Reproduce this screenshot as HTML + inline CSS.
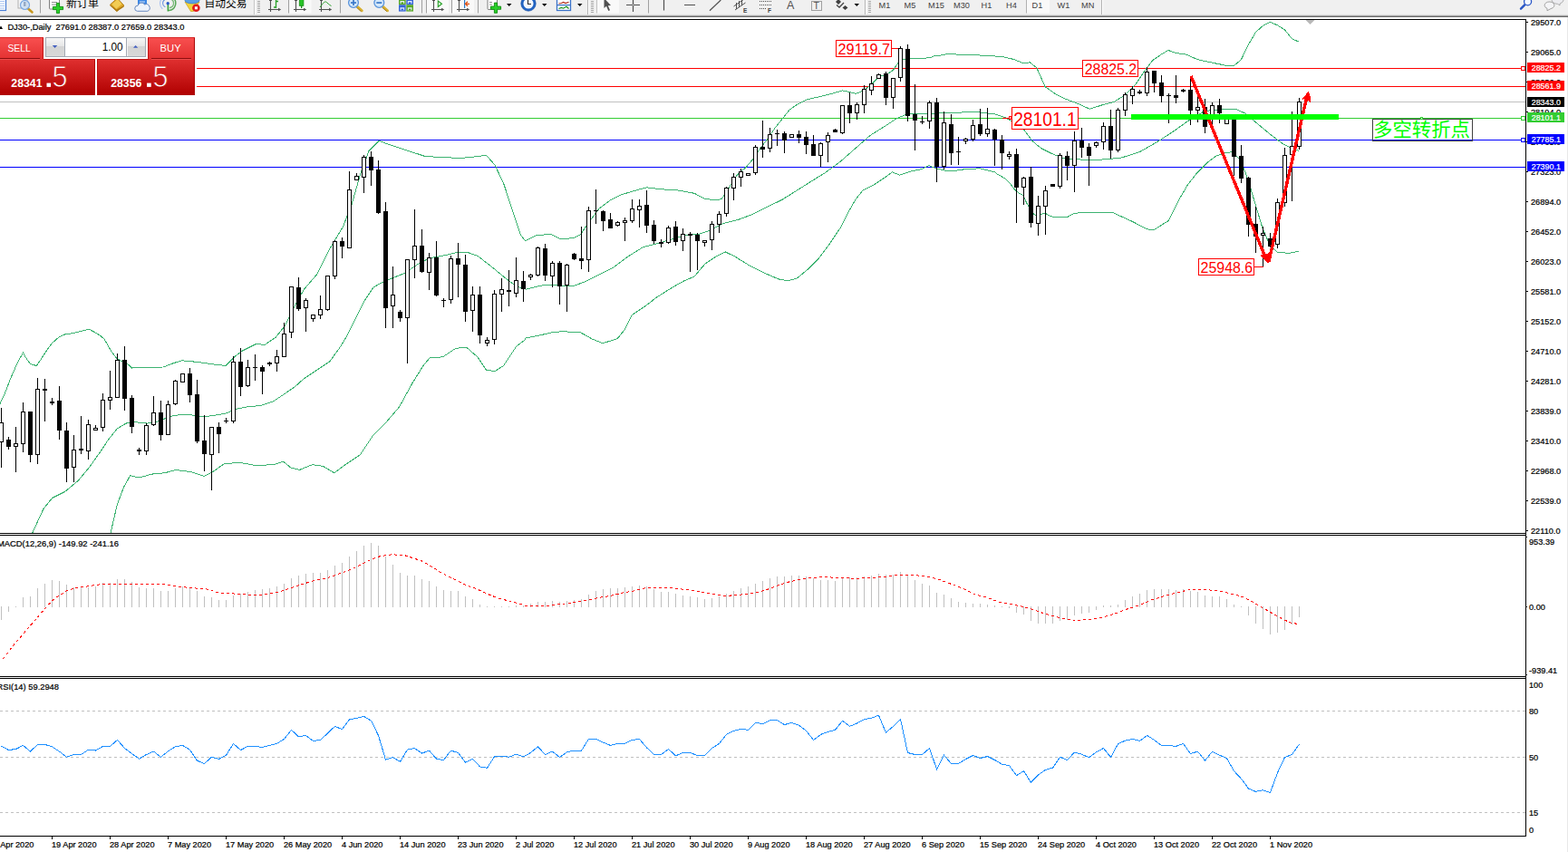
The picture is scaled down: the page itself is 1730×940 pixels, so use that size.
<!DOCTYPE html>
<html><head><meta charset="utf-8"><title>DJ30 Daily</title>
<style>
html,body{margin:0;padding:0;background:#fff;}
body{width:1730px;height:940px;overflow:hidden;position:relative;font-family:"Liberation Sans",sans-serif;}
svg text{font-family:"Liberation Sans",sans-serif;}
svg text.cjk{font-family:"Liberation Sans","Noto Sans CJK SC",sans-serif;}
#tb{position:absolute;left:0;top:0;width:1730px;height:19px;background:linear-gradient(#f0f0f0 0,#f0f0f0 16px,#dcdcdc 16px,#dcdcdc 17px,#a0a0a0 17px,#a0a0a0 18px,#696969 18px,#696969 19px);}
#chart{position:absolute;left:0;top:0;}
#tbi{position:absolute;left:0;top:0;}
#tp{position:absolute;left:0;top:41px;width:215px;height:64px;background:#fff;}
#tp .sellt,#tp .buyt{position:absolute;top:0;height:24px;color:#fff;font-size:12px;line-height:23px;background:linear-gradient(#f84848,#e02a2a);}
#tp .sellt{left:0;width:47px;text-indent:8px;}
#tp .buyt{left:164px;width:51px;text-indent:12px;}
#tp .sellt:after,#tp .buyt:after{content:"";position:absolute;left:0;right:4px;bottom:0;height:1px;background:#b81818;}
#tp .buyt:after{left:4px;right:4px;}
#tp .vol{position:absolute;left:50px;top:0;width:110px;height:21px;border:1px solid #a8a8a8;border-radius:2px;background:#fff;box-sizing:border-box;}
#tp .vb{position:absolute;top:1px;width:18px;height:17px;background:linear-gradient(#e8e8e8,#c8c8c8);border:1px solid #b0b0b0;box-sizing:border-box;}
#tp .vb.l{left:1px;} #tp .vb.r{right:1px;}
#tp .vv{position:absolute;right:25px;top:0;font-size:12px;line-height:19px;color:#000;}
#tp i{position:absolute;left:5px;width:0;height:0;border-left:3px solid transparent;border-right:3px solid transparent;}
#tp i.dn{top:7px;border-top:3px solid #4858b8;}
#tp i.up{top:6px;border-bottom:3px solid #4858b8;}
#tp .big{position:absolute;top:24px;height:40px;color:#fff;background:linear-gradient(#d83030,#b00000);}
#tp .big.s{left:0;width:105px;} #tp .big.b{left:107px;width:108px;}
#tp .sm{position:absolute;left:12px;top:20px;font-size:11px;font-weight:bold;line-height:12px;letter-spacing:.3px;}
#tp .big.b .sm{left:15px;}
#tp .dot{position:absolute;left:50px;top:0;font-size:32px;line-height:36px;}
#tp .big.b .dot{left:54px;}
#tp .lg{position:absolute;left:59px;top:0;font-size:32px;line-height:36px;}
#tp .big.b .lg{left:63px;}
</style></head><body>
<svg id="chart" width="1730" height="940" viewBox="0 0 1730 940">
<rect x="0" y="75" width="1683" height="1" fill="#ff0000" />
<rect x="0" y="95" width="1683" height="1" fill="#ff0000" />
<rect x="0" y="112" width="1683" height="1" fill="#c0c0c0" />
<rect x="0" y="130" width="1683" height="1" fill="#32cd32" />
<rect x="0" y="154" width="1683" height="1" fill="#0000ff" />
<rect x="0" y="184" width="1683" height="1" fill="#0000ff" />
<g shape-rendering="crispEdges">
<polyline points="0.0,445.6 5.7,433.2 11.5,417.9 19.1,400.6 25.5,389.1 28.7,394.9 33.5,401.6 40.2,403.5 45.0,396.8 49.8,389.1 57.4,378.6 65.1,371.9 71.8,368.9 81.4,367.5 98.2,363.2 106.3,367.5 110.1,370.0 114.9,373.8 122.5,387.2 128.3,394.9 134.0,398.7 139.8,400.6 145.5,406.0 153.2,405.4 180.0,405.0 191.5,400.6 201.0,397.8 210.6,398.7 220.0,399.7 239.5,402.5 249.0,403.4 258.6,393.8 268.2,386.6 282.6,379.5 292.1,380.4 304.1,372.3 313.7,360.3 325.7,336.4 335.2,319.6 349.6,302.8 364.0,274.1 378.4,250.2 387.9,226.2 397.5,192.7 407.1,166.3 418.1,155.3 431.0,160.1 450.2,166.3 469.3,172.6 488.5,173.5 507.7,174.5 526.8,172.6 536.4,171.1 546.0,182.1 555.6,202.3 565.1,231.0 574.7,259.7 579.5,265.5 580.0,265.5 592.1,259.4 608.3,258.6 618.4,263.8 632.6,262.6 640.7,258.6 648.7,246.4 660.9,230.3 673.0,221.0 685.1,214.9 701.3,210.1 713.4,206.8 729.6,208.8 749.8,210.1 766.0,213.3 778.1,219.4 790.3,221.0 796.3,219.4 802.4,210.1 812.5,193.9 822.6,185.0 830.7,175.7 838.8,163.6 846.9,153.4 855.0,141.3 863.1,131.2 871.1,121.1 880.0,114.9 890.2,109.8 905.5,106.4 919.1,103.0 929.4,99.9 936.2,101.3 944.7,103.3 951.5,100.4 960.0,94.5 965.1,89.4 970.2,84.6 978.7,81.7 985.5,77.4 990.6,69.8 995.7,65.5 1004.3,64.3 1016.2,64.3 1026.4,63.8 1031.5,61.3 1040.0,60.9 1045.0,59.6 1065.2,60.4 1085.5,61.2 1105.7,62.5 1117.8,65.3 1130.0,70.0 1136.2,68.8 1143.9,74.9 1153.1,95.6 1163.9,103.3 1176.3,109.5 1188.6,114.1 1202.5,120.3 1216.4,115.7 1228.8,112.6 1241.1,104.9 1253.4,92.5 1262.7,78.6 1272.0,66.3 1281.2,60.1 1288.9,55.5 1298.2,58.6 1309.0,60.1 1321.3,65.7 1337.5,69.2 1345.5,70.8 1353.5,72.5 1361.5,72.5 1369.5,65.6 1377.5,49.0 1385.5,35.5 1393.5,28.4 1401.5,24.3 1409.5,27.9 1417.5,33.0 1425.5,42.8 1433.5,46.3" fill="none" stroke="#3cb371" stroke-width="1" />
<polyline points="35.9,587.8 47.9,561.5 57.5,549.5 71.8,542.3 86.2,530.3 98.2,516.0 110.2,499.2 119.7,484.8 129.3,472.9 138.9,467.1 148.5,465.7 162.8,467.1 172.4,465.7 182.0,461.8 191.6,458.5 205.9,457.0 215.5,458.5 225.1,459.9 234.7,458.5 249.0,456.1 261.0,451.3 273.0,448.9 287.4,447.5 301.7,442.7 316.1,433.1 325.7,426.4 335.2,417.8 349.6,408.2 364.0,398.6 376.0,381.9 383.1,369.9 392.7,350.7 402.3,331.6 411.9,317.2 421.5,311.5 431.0,307.6 445.4,301.9 459.8,292.3 474.1,284.6 488.5,282.2 502.9,278.9 517.2,278.9 526.8,282.2 541.2,293.3 555.6,305.2 569.9,316.2 579.5,318.6 580.0,319.2 596.2,315.2 608.3,314.0 620.4,315.6 632.6,315.6 644.7,311.1 660.9,303.1 677.0,295.0 693.2,282.8 709.4,272.7 725.6,268.7 741.7,263.8 757.9,259.4 770.1,258.6 782.2,254.5 798.4,246.4 814.5,242.4 830.7,236.3 846.9,228.2 863.1,220.2 879.2,210.1 895.4,199.9 911.6,189.8 927.8,177.7 943.9,163.6 960.1,149.4 976.3,139.3 988.4,131.2 1000.5,125.9 1016.7,125.9 1032.9,125.1 1049.1,124.3 1065.2,123.9 1081.4,123.9 1097.6,125.9 1109.7,130.0 1121.9,137.3 1130.0,143.4 1139.3,155.8 1148.5,163.5 1160.9,169.7 1173.2,174.3 1188.6,175.8 1204.1,176.8 1219.5,175.8 1234.9,174.3 1236.0,174.4 1257.3,167.7 1275.9,157.1 1294.5,145.1 1313.1,131.8 1329.1,122.5 1347.7,120.6 1363.7,120.6 1374.3,125.2 1384.9,134.5 1400.9,147.8 1416.9,159.7 1432.8,166.4" fill="none" stroke="#3cb371" stroke-width="1" />
<polyline points="122.1,587.8 129.3,556.7 136.5,537.5 143.7,524.6 153.3,527.0 167.6,523.1 182.0,521.7 194.0,518.4 210.7,520.7 225.1,525.5 234.7,520.7 246.6,512.1 263.4,510.2 282.6,513.6 301.7,512.6 312.7,509.3 320.9,516.0 330.5,518.4 344.8,512.6 356.8,514.5 368.8,521.7 383.1,511.2 397.5,501.6 411.9,480.0 426.2,465.7 440.6,448.9 455.0,422.6 467.0,403.4 474.1,394.8 488.5,393.8 502.9,384.3 514.8,383.3 526.8,393.8 536.4,408.2 546.0,409.6 555.6,403.4 569.9,381.9 579.5,374.7 580.0,373.0 596.2,369.8 608.3,366.9 620.4,365.7 640.7,366.9 652.8,373.8 664.9,378.7 681.1,373.8 689.2,363.7 697.3,347.5 709.4,339.5 725.6,327.3 741.7,317.2 753.9,310.3 766.0,305.1 778.1,290.9 790.3,282.8 800.4,278.0 810.5,282.8 826.7,292.9 842.8,301.0 859.0,307.9 869.1,309.9 879.2,307.1 891.4,297.0 903.5,284.9 915.6,268.7 927.8,250.5 935.8,234.3 943.9,220.2 952.0,210.1 964.1,204.0 976.3,195.9 984.4,189.8 992.5,193.1 1004.6,189.0 1016.7,186.6 1024.8,182.6 1032.9,185.8 1041.0,187.8 1049.1,189.0 1065.2,186.6 1081.4,185.8 1097.6,189.8 1100.0,191.8 1108.9,197.0 1114.9,203.0 1119.4,209.0 1124.6,213.4 1129.0,215.7 1132.0,222.4 1136.5,231.3 1141.0,236.5 1144.7,238.0 1149.2,236.5 1152.9,235.0 1158.1,238.0 1162.6,239.5 1177.5,239.5 1184.9,235.5 1196.8,234.0 1226.6,234.0 1250.0,244.7 1265.3,252.8 1273.2,253.6 1289.2,243.5 1299.8,222.2 1310.5,203.6 1321.1,190.3 1331.7,179.7 1342.4,171.7 1353.0,168.5 1359.7,167.7 1369.0,177.0 1377.0,198.3 1384.9,224.9 1392.9,251.5 1400.9,270.1 1408.9,278.1 1422.2,279.4 1432.8,277.3" fill="none" stroke="#3cb371" stroke-width="1" />
</g>
<g shape-rendering="crispEdges">
<rect x="1" y="450" width="1" height="66" fill="#000" />
<rect x="-1" y="466" width="5" height="22" fill="#000" />
<rect x="0" y="467" width="3" height="20" fill="#fff" />
<rect x="9" y="482" width="1" height="14" fill="#000" />
<rect x="7" y="485" width="5" height="8" fill="#000" />
<rect x="17" y="471" width="1" height="50" fill="#000" />
<rect x="15" y="489" width="5" height="4" fill="#000" />
<rect x="16" y="490" width="3" height="2" fill="#fff" />
<rect x="25" y="444" width="1" height="55" fill="#000" />
<rect x="23" y="454" width="5" height="36" fill="#000" />
<rect x="24" y="455" width="3" height="34" fill="#fff" />
<rect x="33" y="454" width="1" height="56" fill="#000" />
<rect x="31" y="454" width="5" height="48" fill="#000" />
<rect x="41" y="417" width="1" height="95" fill="#000" />
<rect x="39" y="429" width="5" height="73" fill="#000" />
<rect x="40" y="430" width="3" height="71" fill="#fff" />
<rect x="49" y="418" width="1" height="47" fill="#000" />
<rect x="47" y="429" width="5" height="2" fill="#000" />
<rect x="57" y="439" width="1" height="8" fill="#000" />
<rect x="55" y="443" width="5" height="2" fill="#000" />
<rect x="65" y="426" width="1" height="59" fill="#000" />
<rect x="63" y="442" width="5" height="33" fill="#000" />
<rect x="73" y="466" width="1" height="66" fill="#000" />
<rect x="71" y="475" width="5" height="42" fill="#000" />
<rect x="81" y="480" width="1" height="52" fill="#000" />
<rect x="79" y="496" width="5" height="20" fill="#000" />
<rect x="80" y="497" width="3" height="18" fill="#fff" />
<rect x="89" y="459" width="1" height="42" fill="#000" />
<rect x="87" y="495" width="5" height="2" fill="#000" />
<rect x="97" y="463" width="1" height="44" fill="#000" />
<rect x="95" y="468" width="5" height="30" fill="#000" />
<rect x="96" y="469" width="3" height="28" fill="#fff" />
<rect x="105" y="469" width="1" height="6" fill="#000" />
<rect x="103" y="472" width="5" height="3" fill="#000" />
<rect x="104" y="473" width="3" height="1" fill="#fff" />
<rect x="113" y="434" width="1" height="42" fill="#000" />
<rect x="111" y="441" width="5" height="31" fill="#000" />
<rect x="112" y="442" width="3" height="29" fill="#fff" />
<rect x="121" y="409" width="1" height="43" fill="#000" />
<rect x="119" y="438" width="5" height="4" fill="#000" />
<rect x="120" y="439" width="3" height="2" fill="#fff" />
<rect x="129" y="390" width="1" height="49" fill="#000" />
<rect x="127" y="397" width="5" height="42" fill="#000" />
<rect x="128" y="398" width="3" height="40" fill="#fff" />
<rect x="137" y="382" width="1" height="71" fill="#000" />
<rect x="135" y="397" width="5" height="43" fill="#000" />
<rect x="145" y="436" width="1" height="42" fill="#000" />
<rect x="143" y="439" width="5" height="32" fill="#000" />
<rect x="153" y="494" width="1" height="8" fill="#000" />
<rect x="151" y="496" width="5" height="2" fill="#000" />
<rect x="161" y="467" width="1" height="35" fill="#000" />
<rect x="159" y="469" width="5" height="29" fill="#000" />
<rect x="160" y="470" width="3" height="27" fill="#fff" />
<rect x="169" y="437" width="1" height="33" fill="#000" />
<rect x="167" y="455" width="5" height="14" fill="#000" />
<rect x="168" y="456" width="3" height="12" fill="#fff" />
<rect x="177" y="442" width="1" height="44" fill="#000" />
<rect x="175" y="455" width="5" height="25" fill="#000" />
<rect x="185" y="442" width="1" height="38" fill="#000" />
<rect x="183" y="446" width="5" height="34" fill="#000" />
<rect x="184" y="447" width="3" height="32" fill="#fff" />
<rect x="193" y="419" width="1" height="28" fill="#000" />
<rect x="191" y="420" width="5" height="26" fill="#000" />
<rect x="192" y="421" width="3" height="24" fill="#fff" />
<rect x="201" y="412" width="1" height="10" fill="#000" />
<rect x="199" y="412" width="5" height="10" fill="#000" />
<rect x="200" y="413" width="3" height="8" fill="#fff" />
<rect x="209" y="406" width="1" height="38" fill="#000" />
<rect x="207" y="412" width="5" height="24" fill="#000" />
<rect x="217" y="419" width="1" height="70" fill="#000" />
<rect x="215" y="435" width="5" height="52" fill="#000" />
<rect x="225" y="458" width="1" height="62" fill="#000" />
<rect x="223" y="486" width="5" height="15" fill="#000" />
<rect x="233" y="471" width="1" height="70" fill="#000" />
<rect x="231" y="471" width="5" height="31" fill="#000" />
<rect x="232" y="472" width="3" height="29" fill="#fff" />
<rect x="241" y="466" width="1" height="34" fill="#000" />
<rect x="239" y="471" width="5" height="8" fill="#000" />
<rect x="249" y="461" width="1" height="6" fill="#000" />
<rect x="247" y="464" width="5" height="1" fill="#000" />
<rect x="257" y="393" width="1" height="74" fill="#000" />
<rect x="255" y="399" width="5" height="66" fill="#000" />
<rect x="256" y="400" width="3" height="64" fill="#fff" />
<rect x="265" y="384" width="1" height="53" fill="#000" />
<rect x="263" y="399" width="5" height="28" fill="#000" />
<rect x="273" y="397" width="1" height="30" fill="#000" />
<rect x="271" y="405" width="5" height="21" fill="#000" />
<rect x="272" y="406" width="3" height="19" fill="#fff" />
<rect x="281" y="391" width="1" height="29" fill="#000" />
<rect x="279" y="405" width="5" height="1" fill="#000" />
<rect x="289" y="403" width="1" height="32" fill="#000" />
<rect x="287" y="405" width="5" height="5" fill="#000" />
<rect x="297" y="399" width="1" height="5" fill="#000" />
<rect x="295" y="400" width="5" height="2" fill="#000" />
<rect x="305" y="386" width="1" height="24" fill="#000" />
<rect x="303" y="393" width="5" height="8" fill="#000" />
<rect x="304" y="394" width="3" height="6" fill="#fff" />
<rect x="313" y="356" width="1" height="38" fill="#000" />
<rect x="311" y="368" width="5" height="26" fill="#000" />
<rect x="312" y="369" width="3" height="24" fill="#fff" />
<rect x="321" y="316" width="1" height="57" fill="#000" />
<rect x="319" y="316" width="5" height="51" fill="#000" />
<rect x="320" y="317" width="3" height="49" fill="#fff" />
<rect x="329" y="306" width="1" height="37" fill="#000" />
<rect x="327" y="317" width="5" height="24" fill="#000" />
<rect x="337" y="329" width="1" height="37" fill="#000" />
<rect x="335" y="331" width="5" height="9" fill="#000" />
<rect x="336" y="332" width="3" height="7" fill="#fff" />
<rect x="345" y="347" width="1" height="8" fill="#000" />
<rect x="343" y="347" width="5" height="5" fill="#000" />
<rect x="344" y="348" width="3" height="3" fill="#fff" />
<rect x="353" y="326" width="1" height="26" fill="#000" />
<rect x="351" y="341" width="5" height="7" fill="#000" />
<rect x="352" y="342" width="3" height="5" fill="#fff" />
<rect x="361" y="304" width="1" height="39" fill="#000" />
<rect x="359" y="304" width="5" height="38" fill="#000" />
<rect x="360" y="305" width="3" height="36" fill="#fff" />
<rect x="369" y="265" width="1" height="43" fill="#000" />
<rect x="367" y="266" width="5" height="39" fill="#000" />
<rect x="368" y="267" width="3" height="37" fill="#fff" />
<rect x="377" y="262" width="1" height="23" fill="#000" />
<rect x="375" y="266" width="5" height="6" fill="#000" />
<rect x="385" y="189" width="1" height="85" fill="#000" />
<rect x="383" y="209" width="5" height="65" fill="#000" />
<rect x="384" y="210" width="3" height="63" fill="#fff" />
<rect x="393" y="191" width="1" height="8" fill="#000" />
<rect x="391" y="194" width="5" height="5" fill="#000" />
<rect x="392" y="195" width="3" height="3" fill="#fff" />
<rect x="401" y="171" width="1" height="42" fill="#000" />
<rect x="399" y="173" width="5" height="23" fill="#000" />
<rect x="400" y="174" width="3" height="21" fill="#fff" />
<rect x="409" y="167" width="1" height="38" fill="#000" />
<rect x="407" y="173" width="5" height="15" fill="#000" />
<rect x="417" y="177" width="1" height="59" fill="#000" />
<rect x="415" y="187" width="5" height="48" fill="#000" />
<rect x="425" y="223" width="1" height="139" fill="#000" />
<rect x="423" y="233" width="5" height="107" fill="#000" />
<rect x="433" y="294" width="1" height="68" fill="#000" />
<rect x="431" y="325" width="5" height="13" fill="#000" />
<rect x="432" y="326" width="3" height="11" fill="#fff" />
<rect x="441" y="342" width="1" height="13" fill="#000" />
<rect x="439" y="344" width="5" height="7" fill="#000" />
<rect x="449" y="286" width="1" height="115" fill="#000" />
<rect x="447" y="286" width="5" height="65" fill="#000" />
<rect x="448" y="287" width="3" height="63" fill="#fff" />
<rect x="457" y="231" width="1" height="76" fill="#000" />
<rect x="455" y="271" width="5" height="16" fill="#000" />
<rect x="456" y="272" width="3" height="14" fill="#fff" />
<rect x="465" y="253" width="1" height="48" fill="#000" />
<rect x="463" y="271" width="5" height="29" fill="#000" />
<rect x="473" y="279" width="1" height="41" fill="#000" />
<rect x="471" y="284" width="5" height="17" fill="#000" />
<rect x="472" y="285" width="3" height="15" fill="#fff" />
<rect x="481" y="266" width="1" height="61" fill="#000" />
<rect x="479" y="284" width="5" height="42" fill="#000" />
<rect x="489" y="329" width="1" height="10" fill="#000" />
<rect x="487" y="331" width="5" height="1" fill="#000" />
<rect x="497" y="282" width="1" height="53" fill="#000" />
<rect x="495" y="285" width="5" height="46" fill="#000" />
<rect x="496" y="286" width="3" height="44" fill="#fff" />
<rect x="505" y="268" width="1" height="60" fill="#000" />
<rect x="503" y="285" width="5" height="7" fill="#000" />
<rect x="513" y="281" width="1" height="74" fill="#000" />
<rect x="511" y="292" width="5" height="52" fill="#000" />
<rect x="521" y="316" width="1" height="50" fill="#000" />
<rect x="519" y="325" width="5" height="18" fill="#000" />
<rect x="520" y="326" width="3" height="16" fill="#fff" />
<rect x="529" y="316" width="1" height="63" fill="#000" />
<rect x="527" y="325" width="5" height="45" fill="#000" />
<rect x="537" y="372" width="1" height="10" fill="#000" />
<rect x="535" y="375" width="5" height="4" fill="#000" />
<rect x="536" y="376" width="3" height="2" fill="#fff" />
<rect x="545" y="320" width="1" height="60" fill="#000" />
<rect x="543" y="324" width="5" height="51" fill="#000" />
<rect x="544" y="325" width="3" height="49" fill="#fff" />
<rect x="553" y="307" width="1" height="37" fill="#000" />
<rect x="551" y="319" width="5" height="6" fill="#000" />
<rect x="552" y="320" width="3" height="4" fill="#fff" />
<rect x="561" y="298" width="1" height="40" fill="#000" />
<rect x="559" y="320" width="5" height="2" fill="#000" />
<rect x="569" y="284" width="1" height="44" fill="#000" />
<rect x="567" y="309" width="5" height="15" fill="#000" />
<rect x="568" y="310" width="3" height="13" fill="#fff" />
<rect x="577" y="299" width="1" height="34" fill="#000" />
<rect x="575" y="310" width="5" height="9" fill="#000" />
<rect x="585" y="302" width="1" height="7" fill="#000" />
<rect x="583" y="303" width="5" height="3" fill="#000" />
<rect x="584" y="304" width="3" height="1" fill="#fff" />
<rect x="593" y="272" width="1" height="33" fill="#000" />
<rect x="591" y="273" width="5" height="31" fill="#000" />
<rect x="592" y="274" width="3" height="29" fill="#fff" />
<rect x="601" y="269" width="1" height="41" fill="#000" />
<rect x="599" y="274" width="5" height="30" fill="#000" />
<rect x="609" y="288" width="1" height="29" fill="#000" />
<rect x="607" y="290" width="5" height="15" fill="#000" />
<rect x="608" y="291" width="3" height="13" fill="#fff" />
<rect x="617" y="288" width="1" height="48" fill="#000" />
<rect x="615" y="290" width="5" height="26" fill="#000" />
<rect x="625" y="291" width="1" height="53" fill="#000" />
<rect x="623" y="292" width="5" height="23" fill="#000" />
<rect x="624" y="293" width="3" height="21" fill="#fff" />
<rect x="633" y="279" width="1" height="8" fill="#000" />
<rect x="631" y="280" width="5" height="6" fill="#000" />
<rect x="641" y="250" width="1" height="47" fill="#000" />
<rect x="639" y="285" width="5" height="3" fill="#000" />
<rect x="649" y="228" width="1" height="72" fill="#000" />
<rect x="647" y="232" width="5" height="55" fill="#000" />
<rect x="648" y="233" width="3" height="53" fill="#fff" />
<rect x="657" y="209" width="1" height="38" fill="#000" />
<rect x="655" y="232" width="5" height="1" fill="#000" />
<rect x="665" y="232" width="1" height="23" fill="#000" />
<rect x="663" y="233" width="5" height="11" fill="#000" />
<rect x="673" y="235" width="1" height="17" fill="#000" />
<rect x="671" y="242" width="5" height="10" fill="#000" />
<rect x="681" y="244" width="1" height="6" fill="#000" />
<rect x="679" y="245" width="5" height="4" fill="#000" />
<rect x="680" y="246" width="3" height="2" fill="#fff" />
<rect x="689" y="240" width="1" height="26" fill="#000" />
<rect x="687" y="243" width="5" height="3" fill="#000" />
<rect x="688" y="244" width="3" height="1" fill="#fff" />
<rect x="697" y="220" width="1" height="26" fill="#000" />
<rect x="695" y="230" width="5" height="14" fill="#000" />
<rect x="696" y="231" width="3" height="12" fill="#fff" />
<rect x="705" y="220" width="1" height="31" fill="#000" />
<rect x="703" y="227" width="5" height="5" fill="#000" />
<rect x="704" y="228" width="3" height="3" fill="#fff" />
<rect x="713" y="210" width="1" height="47" fill="#000" />
<rect x="711" y="226" width="5" height="23" fill="#000" />
<rect x="721" y="243" width="1" height="26" fill="#000" />
<rect x="719" y="248" width="5" height="18" fill="#000" />
<rect x="729" y="264" width="1" height="9" fill="#000" />
<rect x="727" y="267" width="5" height="2" fill="#000" />
<rect x="737" y="249" width="1" height="20" fill="#000" />
<rect x="735" y="251" width="5" height="17" fill="#000" />
<rect x="736" y="252" width="3" height="15" fill="#fff" />
<rect x="745" y="244" width="1" height="27" fill="#000" />
<rect x="743" y="250" width="5" height="17" fill="#000" />
<rect x="753" y="252" width="1" height="25" fill="#000" />
<rect x="751" y="258" width="5" height="8" fill="#000" />
<rect x="752" y="259" width="3" height="6" fill="#fff" />
<rect x="761" y="256" width="1" height="44" fill="#000" />
<rect x="759" y="258" width="5" height="2" fill="#000" />
<rect x="769" y="257" width="1" height="41" fill="#000" />
<rect x="767" y="259" width="5" height="7" fill="#000" />
<rect x="777" y="265" width="1" height="7" fill="#000" />
<rect x="775" y="265" width="5" height="3" fill="#000" />
<rect x="776" y="266" width="3" height="1" fill="#fff" />
<rect x="785" y="244" width="1" height="32" fill="#000" />
<rect x="783" y="247" width="5" height="18" fill="#000" />
<rect x="784" y="248" width="3" height="16" fill="#fff" />
<rect x="793" y="233" width="1" height="24" fill="#000" />
<rect x="791" y="236" width="5" height="12" fill="#000" />
<rect x="792" y="237" width="3" height="10" fill="#fff" />
<rect x="801" y="206" width="1" height="33" fill="#000" />
<rect x="799" y="207" width="5" height="29" fill="#000" />
<rect x="800" y="208" width="3" height="27" fill="#fff" />
<rect x="809" y="191" width="1" height="30" fill="#000" />
<rect x="807" y="195" width="5" height="13" fill="#000" />
<rect x="808" y="196" width="3" height="11" fill="#fff" />
<rect x="817" y="186" width="1" height="20" fill="#000" />
<rect x="815" y="189" width="5" height="7" fill="#000" />
<rect x="816" y="190" width="3" height="5" fill="#fff" />
<rect x="825" y="191" width="1" height="3" fill="#000" />
<rect x="823" y="191" width="5" height="3" fill="#000" />
<rect x="824" y="192" width="3" height="1" fill="#fff" />
<rect x="833" y="160" width="1" height="33" fill="#000" />
<rect x="831" y="162" width="5" height="29" fill="#000" />
<rect x="832" y="163" width="3" height="27" fill="#fff" />
<rect x="841" y="133" width="1" height="41" fill="#000" />
<rect x="839" y="162" width="5" height="3" fill="#000" />
<rect x="849" y="141" width="1" height="27" fill="#000" />
<rect x="847" y="148" width="5" height="16" fill="#000" />
<rect x="848" y="149" width="3" height="14" fill="#fff" />
<rect x="857" y="143" width="1" height="18" fill="#000" />
<rect x="855" y="147" width="5" height="1" fill="#000" />
<rect x="865" y="145" width="1" height="24" fill="#000" />
<rect x="863" y="147" width="5" height="8" fill="#000" />
<rect x="873" y="148" width="1" height="4" fill="#000" />
<rect x="871" y="148" width="5" height="4" fill="#000" />
<rect x="872" y="149" width="3" height="2" fill="#fff" />
<rect x="881" y="144" width="1" height="14" fill="#000" />
<rect x="879" y="148" width="5" height="4" fill="#000" />
<rect x="889" y="145" width="1" height="25" fill="#000" />
<rect x="887" y="151" width="5" height="9" fill="#000" />
<rect x="897" y="149" width="1" height="23" fill="#000" />
<rect x="895" y="159" width="5" height="13" fill="#000" />
<rect x="905" y="157" width="1" height="27" fill="#000" />
<rect x="903" y="158" width="5" height="14" fill="#000" />
<rect x="904" y="159" width="3" height="12" fill="#fff" />
<rect x="913" y="146" width="1" height="33" fill="#000" />
<rect x="911" y="149" width="5" height="8" fill="#000" />
<rect x="912" y="150" width="3" height="6" fill="#fff" />
<rect x="921" y="142" width="1" height="4" fill="#000" />
<rect x="919" y="143" width="5" height="3" fill="#000" />
<rect x="929" y="116" width="1" height="32" fill="#000" />
<rect x="927" y="116" width="5" height="31" fill="#000" />
<rect x="928" y="117" width="3" height="29" fill="#fff" />
<rect x="937" y="102" width="1" height="34" fill="#000" />
<rect x="935" y="116" width="5" height="9" fill="#000" />
<rect x="945" y="113" width="1" height="19" fill="#000" />
<rect x="943" y="115" width="5" height="10" fill="#000" />
<rect x="944" y="116" width="3" height="8" fill="#fff" />
<rect x="953" y="94" width="1" height="31" fill="#000" />
<rect x="951" y="98" width="5" height="18" fill="#000" />
<rect x="952" y="99" width="3" height="16" fill="#fff" />
<rect x="961" y="84" width="1" height="21" fill="#000" />
<rect x="959" y="92" width="5" height="8" fill="#000" />
<rect x="960" y="93" width="3" height="6" fill="#fff" />
<rect x="969" y="81" width="1" height="6" fill="#000" />
<rect x="967" y="82" width="5" height="5" fill="#000" />
<rect x="968" y="83" width="3" height="3" fill="#fff" />
<rect x="977" y="79" width="1" height="37" fill="#000" />
<rect x="975" y="81" width="5" height="27" fill="#000" />
<rect x="985" y="86" width="1" height="34" fill="#000" />
<rect x="983" y="86" width="5" height="22" fill="#000" />
<rect x="984" y="87" width="3" height="20" fill="#fff" />
<rect x="993" y="51" width="1" height="39" fill="#000" />
<rect x="991" y="53" width="5" height="33" fill="#000" />
<rect x="992" y="54" width="3" height="31" fill="#fff" />
<rect x="1001" y="49" width="1" height="85" fill="#000" />
<rect x="999" y="54" width="5" height="74" fill="#000" />
<rect x="1009" y="93" width="1" height="73" fill="#000" />
<rect x="1007" y="126" width="5" height="7" fill="#000" />
<rect x="1017" y="128" width="1" height="9" fill="#000" />
<rect x="1015" y="134" width="5" height="1" fill="#000" />
<rect x="1025" y="111" width="1" height="31" fill="#000" />
<rect x="1023" y="113" width="5" height="21" fill="#000" />
<rect x="1024" y="114" width="3" height="19" fill="#fff" />
<rect x="1033" y="108" width="1" height="93" fill="#000" />
<rect x="1031" y="113" width="5" height="71" fill="#000" />
<rect x="1041" y="123" width="1" height="64" fill="#000" />
<rect x="1039" y="135" width="5" height="49" fill="#000" />
<rect x="1040" y="136" width="3" height="47" fill="#fff" />
<rect x="1049" y="126" width="1" height="56" fill="#000" />
<rect x="1047" y="137" width="5" height="32" fill="#000" />
<rect x="1057" y="151" width="1" height="31" fill="#000" />
<rect x="1055" y="167" width="5" height="1" fill="#000" />
<rect x="1065" y="152" width="1" height="7" fill="#000" />
<rect x="1063" y="153" width="5" height="3" fill="#000" />
<rect x="1064" y="154" width="3" height="1" fill="#fff" />
<rect x="1073" y="132" width="1" height="24" fill="#000" />
<rect x="1071" y="138" width="5" height="16" fill="#000" />
<rect x="1072" y="139" width="3" height="14" fill="#fff" />
<rect x="1081" y="120" width="1" height="30" fill="#000" />
<rect x="1079" y="137" width="5" height="11" fill="#000" />
<rect x="1089" y="119" width="1" height="32" fill="#000" />
<rect x="1087" y="142" width="5" height="6" fill="#000" />
<rect x="1088" y="143" width="3" height="4" fill="#fff" />
<rect x="1097" y="142" width="1" height="41" fill="#000" />
<rect x="1095" y="143" width="5" height="11" fill="#000" />
<rect x="1105" y="149" width="1" height="38" fill="#000" />
<rect x="1103" y="154" width="5" height="15" fill="#000" />
<rect x="1113" y="167" width="1" height="9" fill="#000" />
<rect x="1111" y="170" width="5" height="3" fill="#000" />
<rect x="1112" y="171" width="3" height="1" fill="#fff" />
<rect x="1121" y="164" width="1" height="82" fill="#000" />
<rect x="1119" y="170" width="5" height="37" fill="#000" />
<rect x="1129" y="195" width="1" height="31" fill="#000" />
<rect x="1127" y="196" width="5" height="11" fill="#000" />
<rect x="1128" y="197" width="3" height="9" fill="#fff" />
<rect x="1137" y="184" width="1" height="67" fill="#000" />
<rect x="1135" y="195" width="5" height="51" fill="#000" />
<rect x="1145" y="216" width="1" height="44" fill="#000" />
<rect x="1143" y="227" width="5" height="20" fill="#000" />
<rect x="1144" y="228" width="3" height="18" fill="#fff" />
<rect x="1153" y="205" width="1" height="54" fill="#000" />
<rect x="1151" y="210" width="5" height="18" fill="#000" />
<rect x="1152" y="211" width="3" height="16" fill="#fff" />
<rect x="1161" y="203" width="1" height="3" fill="#000" />
<rect x="1159" y="203" width="5" height="3" fill="#000" />
<rect x="1169" y="169" width="1" height="39" fill="#000" />
<rect x="1167" y="171" width="5" height="35" fill="#000" />
<rect x="1168" y="172" width="3" height="33" fill="#fff" />
<rect x="1177" y="167" width="1" height="32" fill="#000" />
<rect x="1175" y="172" width="5" height="11" fill="#000" />
<rect x="1185" y="145" width="1" height="67" fill="#000" />
<rect x="1183" y="155" width="5" height="28" fill="#000" />
<rect x="1184" y="156" width="3" height="26" fill="#fff" />
<rect x="1193" y="141" width="1" height="33" fill="#000" />
<rect x="1191" y="155" width="5" height="8" fill="#000" />
<rect x="1201" y="158" width="1" height="47" fill="#000" />
<rect x="1199" y="162" width="5" height="10" fill="#000" />
<rect x="1209" y="156" width="1" height="7" fill="#000" />
<rect x="1207" y="157" width="5" height="4" fill="#000" />
<rect x="1208" y="158" width="3" height="2" fill="#fff" />
<rect x="1217" y="135" width="1" height="30" fill="#000" />
<rect x="1215" y="139" width="5" height="18" fill="#000" />
<rect x="1216" y="140" width="3" height="16" fill="#fff" />
<rect x="1225" y="121" width="1" height="54" fill="#000" />
<rect x="1223" y="139" width="5" height="27" fill="#000" />
<rect x="1233" y="119" width="1" height="49" fill="#000" />
<rect x="1231" y="121" width="5" height="45" fill="#000" />
<rect x="1232" y="122" width="3" height="43" fill="#fff" />
<rect x="1241" y="102" width="1" height="26" fill="#000" />
<rect x="1239" y="104" width="5" height="18" fill="#000" />
<rect x="1240" y="105" width="3" height="16" fill="#fff" />
<rect x="1249" y="95" width="1" height="20" fill="#000" />
<rect x="1247" y="98" width="5" height="8" fill="#000" />
<rect x="1248" y="99" width="3" height="6" fill="#fff" />
<rect x="1257" y="99" width="1" height="5" fill="#000" />
<rect x="1255" y="101" width="5" height="2" fill="#000" />
<rect x="1265" y="74" width="1" height="32" fill="#000" />
<rect x="1263" y="79" width="5" height="24" fill="#000" />
<rect x="1264" y="80" width="3" height="22" fill="#fff" />
<rect x="1273" y="78" width="1" height="24" fill="#000" />
<rect x="1271" y="78" width="5" height="14" fill="#000" />
<rect x="1281" y="83" width="1" height="30" fill="#000" />
<rect x="1279" y="91" width="5" height="15" fill="#000" />
<rect x="1289" y="103" width="1" height="33" fill="#000" />
<rect x="1287" y="105" width="5" height="1" fill="#000" />
<rect x="1297" y="83" width="1" height="31" fill="#000" />
<rect x="1295" y="105" width="5" height="3" fill="#000" />
<rect x="1305" y="98" width="1" height="4" fill="#000" />
<rect x="1303" y="99" width="5" height="2" fill="#000" />
<rect x="1313" y="85" width="1" height="53" fill="#000" />
<rect x="1311" y="99" width="5" height="23" fill="#000" />
<rect x="1321" y="103" width="1" height="32" fill="#000" />
<rect x="1319" y="118" width="5" height="4" fill="#000" />
<rect x="1320" y="119" width="3" height="2" fill="#fff" />
<rect x="1329" y="109" width="1" height="38" fill="#000" />
<rect x="1327" y="118" width="5" height="22" fill="#000" />
<rect x="1337" y="113" width="1" height="33" fill="#000" />
<rect x="1335" y="116" width="5" height="16" fill="#000" />
<rect x="1336" y="117" width="3" height="14" fill="#fff" />
<rect x="1345" y="109" width="1" height="27" fill="#000" />
<rect x="1343" y="116" width="5" height="9" fill="#000" />
<rect x="1353" y="127" width="1" height="10" fill="#000" />
<rect x="1351" y="128" width="5" height="9" fill="#000" />
<rect x="1352" y="129" width="3" height="7" fill="#fff" />
<rect x="1361" y="131" width="1" height="63" fill="#000" />
<rect x="1359" y="131" width="5" height="42" fill="#000" />
<rect x="1369" y="160" width="1" height="42" fill="#000" />
<rect x="1367" y="172" width="5" height="25" fill="#000" />
<rect x="1377" y="195" width="1" height="66" fill="#000" />
<rect x="1375" y="196" width="5" height="52" fill="#000" />
<rect x="1385" y="228" width="1" height="51" fill="#000" />
<rect x="1383" y="247" width="5" height="14" fill="#000" />
<rect x="1393" y="250" width="1" height="44" fill="#000" />
<rect x="1391" y="257" width="5" height="3" fill="#000" />
<rect x="1392" y="258" width="3" height="1" fill="#fff" />
<rect x="1401" y="257" width="1" height="16" fill="#000" />
<rect x="1399" y="263" width="5" height="9" fill="#000" />
<rect x="1409" y="219" width="1" height="55" fill="#000" />
<rect x="1407" y="223" width="5" height="47" fill="#000" />
<rect x="1408" y="224" width="3" height="45" fill="#fff" />
<rect x="1417" y="163" width="1" height="65" fill="#000" />
<rect x="1415" y="171" width="5" height="53" fill="#000" />
<rect x="1416" y="172" width="3" height="51" fill="#fff" />
<rect x="1425" y="123" width="1" height="99" fill="#000" />
<rect x="1423" y="161" width="5" height="10" fill="#000" />
<rect x="1424" y="162" width="3" height="8" fill="#fff" />
<rect x="1433" y="108" width="1" height="57" fill="#000" />
<rect x="1431" y="112" width="5" height="50" fill="#000" />
<rect x="1432" y="113" width="3" height="48" fill="#fff" />
</g>
<g stroke="#ff0000" fill="#ff0000" shape-rendering="crispEdges">
<line x1="1314" y1="84" x2="1397" y2="286" stroke-width="3.4"/>
<line x1="1399.8" y1="289" x2="1441.6" y2="108" stroke-width="3.4"/>
<polygon points="1399,291 1390.6,281.6 1396,281 1402.5,277.5 1402.3,283" stroke="none"/>
<polygon points="1443.6,100.5 1436.6,109.6 1440.5,109.3 1446.2,113 1445.6,106" stroke="none"/>
</g>
<rect x="1248" y="126" width="229" height="6" fill="#00ff00" />
<rect x="922.5" y="44.5" width="61" height="18" fill="#fff" stroke="#ff0000" stroke-width="1" shape-rendering="crispEdges"/>
<text x="924.6" y="60" font-size="17" fill="#ff0000" textLength="57.5" lengthAdjust="spacingAndGlyphs">29119.7</text>
<rect x="984" y="53" width="7" height="1" fill="#ff0000" />
<rect x="1194.5" y="66.5" width="61" height="18" fill="#fff" stroke="#ff0000" stroke-width="1" shape-rendering="crispEdges"/>
<text x="1196.7" y="82" font-size="17" fill="#ff0000" textLength="57.5" lengthAdjust="spacingAndGlyphs">28825.2</text>
<rect x="1116.5" y="118.5" width="73" height="24" fill="#fff" stroke="#ff0000" stroke-width="1" shape-rendering="crispEdges"/>
<text x="1118.2" y="139" font-size="22" fill="#ff0000" textLength="69.4" lengthAdjust="spacingAndGlyphs">28101.1</text>
<rect x="1106" y="130" width="7" height="1" fill="#ff0000" />
<rect x="1113.5" y="128.5" width="2" height="3" fill="#fff" stroke="#ff0000" shape-rendering="crispEdges"/>
<rect x="1322.5" y="285.5" width="61" height="18" fill="#fff" stroke="#ff0000" stroke-width="1" shape-rendering="crispEdges"/>
<text x="1324.6" y="301" font-size="17" fill="#ff0000" textLength="57.5" lengthAdjust="spacingAndGlyphs">25948.6</text>
<rect x="1384" y="294" width="10" height="1" fill="#ff0000" />
<rect x="1514.5" y="131.5" width="110" height="24" fill="#fff" stroke="#404040" shape-rendering="crispEdges"/>
<rect x="1515" y="154" width="109" height="1" fill="#0000ff" />
<text class="cjk" x="1515" y="150" font-size="21" fill="#00ff00" textLength="107" lengthAdjust="spacingAndGlyphs">多空转折点</text>
<rect x="1567.5" y="129.5" width="2" height="2" fill="#fff" stroke="#32cd32" shape-rendering="crispEdges"/>
<rect x="1678.5" y="73.5" width="4" height="4" fill="#fff" stroke="#ff0000" shape-rendering="crispEdges"/>
<rect x="1678.5" y="128.5" width="4" height="4" fill="#fff" stroke="#32cd32" shape-rendering="crispEdges"/>
<rect x="1678.5" y="152.5" width="4" height="4" fill="#fff" stroke="#0000ff" shape-rendering="crispEdges"/>
<polygon points="1440.5,22 1450.5,22 1445.5,27" fill="#b8b8b8"/>
<g shape-rendering="crispEdges">
<rect x="1" y="669" width="1" height="15" fill="#c0c0c0" />
<rect x="9" y="669" width="1" height="6" fill="#c0c0c0" />
<rect x="17" y="669" width="1" height="1" fill="#c0c0c0" />
<rect x="25" y="659" width="1" height="11" fill="#c0c0c0" />
<rect x="33" y="658" width="1" height="12" fill="#c0c0c0" />
<rect x="41" y="649" width="1" height="21" fill="#c0c0c0" />
<rect x="49" y="644" width="1" height="26" fill="#c0c0c0" />
<rect x="57" y="640" width="1" height="30" fill="#c0c0c0" />
<rect x="65" y="641" width="1" height="29" fill="#c0c0c0" />
<rect x="73" y="645" width="1" height="25" fill="#c0c0c0" />
<rect x="81" y="648" width="1" height="22" fill="#c0c0c0" />
<rect x="89" y="648" width="1" height="22" fill="#c0c0c0" />
<rect x="97" y="648" width="1" height="22" fill="#c0c0c0" />
<rect x="105" y="647" width="1" height="23" fill="#c0c0c0" />
<rect x="113" y="643" width="1" height="27" fill="#c0c0c0" />
<rect x="121" y="643" width="1" height="27" fill="#c0c0c0" />
<rect x="129" y="639" width="1" height="31" fill="#c0c0c0" />
<rect x="137" y="639" width="1" height="31" fill="#c0c0c0" />
<rect x="145" y="642" width="1" height="28" fill="#c0c0c0" />
<rect x="153" y="648" width="1" height="22" fill="#c0c0c0" />
<rect x="161" y="649" width="1" height="21" fill="#c0c0c0" />
<rect x="169" y="649" width="1" height="21" fill="#c0c0c0" />
<rect x="177" y="652" width="1" height="18" fill="#c0c0c0" />
<rect x="185" y="652" width="1" height="18" fill="#c0c0c0" />
<rect x="193" y="649" width="1" height="21" fill="#c0c0c0" />
<rect x="201" y="647" width="1" height="23" fill="#c0c0c0" />
<rect x="209" y="648" width="1" height="22" fill="#c0c0c0" />
<rect x="217" y="652" width="1" height="18" fill="#c0c0c0" />
<rect x="225" y="658" width="1" height="12" fill="#c0c0c0" />
<rect x="233" y="659" width="1" height="11" fill="#c0c0c0" />
<rect x="241" y="662" width="1" height="8" fill="#c0c0c0" />
<rect x="249" y="662" width="1" height="8" fill="#c0c0c0" />
<rect x="257" y="657" width="1" height="13" fill="#c0c0c0" />
<rect x="265" y="655" width="1" height="15" fill="#c0c0c0" />
<rect x="273" y="653" width="1" height="17" fill="#c0c0c0" />
<rect x="281" y="651" width="1" height="19" fill="#c0c0c0" />
<rect x="289" y="650" width="1" height="20" fill="#c0c0c0" />
<rect x="297" y="649" width="1" height="21" fill="#c0c0c0" />
<rect x="305" y="647" width="1" height="23" fill="#c0c0c0" />
<rect x="313" y="644" width="1" height="26" fill="#c0c0c0" />
<rect x="321" y="638" width="1" height="32" fill="#c0c0c0" />
<rect x="329" y="635" width="1" height="35" fill="#c0c0c0" />
<rect x="337" y="633" width="1" height="37" fill="#c0c0c0" />
<rect x="345" y="632" width="1" height="38" fill="#c0c0c0" />
<rect x="353" y="632" width="1" height="38" fill="#c0c0c0" />
<rect x="361" y="629" width="1" height="41" fill="#c0c0c0" />
<rect x="369" y="624" width="1" height="46" fill="#c0c0c0" />
<rect x="377" y="621" width="1" height="49" fill="#c0c0c0" />
<rect x="385" y="614" width="1" height="56" fill="#c0c0c0" />
<rect x="393" y="608" width="1" height="62" fill="#c0c0c0" />
<rect x="401" y="602" width="1" height="68" fill="#c0c0c0" />
<rect x="409" y="599" width="1" height="71" fill="#c0c0c0" />
<rect x="417" y="602" width="1" height="68" fill="#c0c0c0" />
<rect x="425" y="614" width="1" height="56" fill="#c0c0c0" />
<rect x="433" y="623" width="1" height="47" fill="#c0c0c0" />
<rect x="441" y="632" width="1" height="38" fill="#c0c0c0" />
<rect x="449" y="635" width="1" height="35" fill="#c0c0c0" />
<rect x="457" y="635" width="1" height="35" fill="#c0c0c0" />
<rect x="465" y="639" width="1" height="31" fill="#c0c0c0" />
<rect x="473" y="641" width="1" height="29" fill="#c0c0c0" />
<rect x="481" y="647" width="1" height="23" fill="#c0c0c0" />
<rect x="489" y="651" width="1" height="19" fill="#c0c0c0" />
<rect x="497" y="652" width="1" height="18" fill="#c0c0c0" />
<rect x="505" y="652" width="1" height="18" fill="#c0c0c0" />
<rect x="513" y="658" width="1" height="12" fill="#c0c0c0" />
<rect x="521" y="661" width="1" height="9" fill="#c0c0c0" />
<rect x="529" y="667" width="1" height="3" fill="#c0c0c0" />
<rect x="537" y="669" width="1" height="1" fill="#c0c0c0" />
<rect x="545" y="669" width="1" height="1" fill="#c0c0c0" />
<rect x="553" y="669" width="1" height="1" fill="#c0c0c0" />
<rect x="561" y="669" width="1" height="1" fill="#c0c0c0" />
<rect x="569" y="668" width="1" height="2" fill="#c0c0c0" />
<rect x="577" y="668" width="1" height="2" fill="#c0c0c0" />
<rect x="585" y="666" width="1" height="4" fill="#c0c0c0" />
<rect x="593" y="664" width="1" height="6" fill="#c0c0c0" />
<rect x="601" y="664" width="1" height="6" fill="#c0c0c0" />
<rect x="609" y="663" width="1" height="7" fill="#c0c0c0" />
<rect x="617" y="664" width="1" height="6" fill="#c0c0c0" />
<rect x="625" y="663" width="1" height="7" fill="#c0c0c0" />
<rect x="633" y="662" width="1" height="8" fill="#c0c0c0" />
<rect x="641" y="661" width="1" height="9" fill="#c0c0c0" />
<rect x="649" y="656" width="1" height="14" fill="#c0c0c0" />
<rect x="657" y="652" width="1" height="18" fill="#c0c0c0" />
<rect x="665" y="650" width="1" height="20" fill="#c0c0c0" />
<rect x="673" y="649" width="1" height="21" fill="#c0c0c0" />
<rect x="681" y="649" width="1" height="21" fill="#c0c0c0" />
<rect x="689" y="648" width="1" height="22" fill="#c0c0c0" />
<rect x="697" y="647" width="1" height="23" fill="#c0c0c0" />
<rect x="705" y="646" width="1" height="24" fill="#c0c0c0" />
<rect x="713" y="647" width="1" height="23" fill="#c0c0c0" />
<rect x="721" y="650" width="1" height="20" fill="#c0c0c0" />
<rect x="729" y="653" width="1" height="17" fill="#c0c0c0" />
<rect x="737" y="653" width="1" height="17" fill="#c0c0c0" />
<rect x="745" y="655" width="1" height="15" fill="#c0c0c0" />
<rect x="753" y="657" width="1" height="13" fill="#c0c0c0" />
<rect x="761" y="658" width="1" height="12" fill="#c0c0c0" />
<rect x="769" y="659" width="1" height="11" fill="#c0c0c0" />
<rect x="777" y="661" width="1" height="9" fill="#c0c0c0" />
<rect x="785" y="660" width="1" height="10" fill="#c0c0c0" />
<rect x="793" y="658" width="1" height="12" fill="#c0c0c0" />
<rect x="801" y="655" width="1" height="15" fill="#c0c0c0" />
<rect x="809" y="652" width="1" height="18" fill="#c0c0c0" />
<rect x="817" y="649" width="1" height="21" fill="#c0c0c0" />
<rect x="825" y="647" width="1" height="23" fill="#c0c0c0" />
<rect x="833" y="644" width="1" height="26" fill="#c0c0c0" />
<rect x="841" y="641" width="1" height="29" fill="#c0c0c0" />
<rect x="849" y="638" width="1" height="32" fill="#c0c0c0" />
<rect x="857" y="636" width="1" height="34" fill="#c0c0c0" />
<rect x="865" y="636" width="1" height="34" fill="#c0c0c0" />
<rect x="873" y="635" width="1" height="35" fill="#c0c0c0" />
<rect x="881" y="635" width="1" height="35" fill="#c0c0c0" />
<rect x="889" y="636" width="1" height="34" fill="#c0c0c0" />
<rect x="897" y="638" width="1" height="32" fill="#c0c0c0" />
<rect x="905" y="640" width="1" height="30" fill="#c0c0c0" />
<rect x="913" y="640" width="1" height="30" fill="#c0c0c0" />
<rect x="921" y="641" width="1" height="29" fill="#c0c0c0" />
<rect x="929" y="638" width="1" height="32" fill="#c0c0c0" />
<rect x="937" y="637" width="1" height="33" fill="#c0c0c0" />
<rect x="945" y="637" width="1" height="33" fill="#c0c0c0" />
<rect x="953" y="636" width="1" height="34" fill="#c0c0c0" />
<rect x="961" y="635" width="1" height="35" fill="#c0c0c0" />
<rect x="969" y="633" width="1" height="37" fill="#c0c0c0" />
<rect x="977" y="634" width="1" height="36" fill="#c0c0c0" />
<rect x="985" y="634" width="1" height="36" fill="#c0c0c0" />
<rect x="993" y="631" width="1" height="39" fill="#c0c0c0" />
<rect x="1001" y="635" width="1" height="35" fill="#c0c0c0" />
<rect x="1009" y="640" width="1" height="30" fill="#c0c0c0" />
<rect x="1017" y="644" width="1" height="26" fill="#c0c0c0" />
<rect x="1025" y="646" width="1" height="24" fill="#c0c0c0" />
<rect x="1033" y="654" width="1" height="16" fill="#c0c0c0" />
<rect x="1041" y="656" width="1" height="14" fill="#c0c0c0" />
<rect x="1049" y="660" width="1" height="10" fill="#c0c0c0" />
<rect x="1057" y="664" width="1" height="6" fill="#c0c0c0" />
<rect x="1065" y="665" width="1" height="5" fill="#c0c0c0" />
<rect x="1073" y="666" width="1" height="4" fill="#c0c0c0" />
<rect x="1081" y="666" width="1" height="4" fill="#c0c0c0" />
<rect x="1089" y="667" width="1" height="3" fill="#c0c0c0" />
<rect x="1097" y="668" width="1" height="2" fill="#c0c0c0" />
<rect x="1105" y="669" width="1" height="1" fill="#c0c0c0" />
<rect x="1113" y="669" width="1" height="2" fill="#c0c0c0" />
<rect x="1121" y="669" width="1" height="7" fill="#c0c0c0" />
<rect x="1129" y="669" width="1" height="9" fill="#c0c0c0" />
<rect x="1137" y="669" width="1" height="16" fill="#c0c0c0" />
<rect x="1145" y="669" width="1" height="19" fill="#c0c0c0" />
<rect x="1153" y="669" width="1" height="19" fill="#c0c0c0" />
<rect x="1161" y="669" width="1" height="19" fill="#c0c0c0" />
<rect x="1169" y="669" width="1" height="16" fill="#c0c0c0" />
<rect x="1177" y="669" width="1" height="15" fill="#c0c0c0" />
<rect x="1185" y="669" width="1" height="10" fill="#c0c0c0" />
<rect x="1193" y="669" width="1" height="8" fill="#c0c0c0" />
<rect x="1201" y="669" width="1" height="7" fill="#c0c0c0" />
<rect x="1209" y="669" width="1" height="4" fill="#c0c0c0" />
<rect x="1217" y="668" width="1" height="2" fill="#c0c0c0" />
<rect x="1225" y="668" width="1" height="2" fill="#c0c0c0" />
<rect x="1233" y="667" width="1" height="3" fill="#c0c0c0" />
<rect x="1241" y="662" width="1" height="8" fill="#c0c0c0" />
<rect x="1249" y="658" width="1" height="12" fill="#c0c0c0" />
<rect x="1257" y="655" width="1" height="15" fill="#c0c0c0" />
<rect x="1265" y="651" width="1" height="19" fill="#c0c0c0" />
<rect x="1273" y="650" width="1" height="20" fill="#c0c0c0" />
<rect x="1281" y="650" width="1" height="20" fill="#c0c0c0" />
<rect x="1289" y="650" width="1" height="20" fill="#c0c0c0" />
<rect x="1297" y="651" width="1" height="19" fill="#c0c0c0" />
<rect x="1305" y="650" width="1" height="20" fill="#c0c0c0" />
<rect x="1313" y="652" width="1" height="18" fill="#c0c0c0" />
<rect x="1321" y="653" width="1" height="17" fill="#c0c0c0" />
<rect x="1329" y="657" width="1" height="13" fill="#c0c0c0" />
<rect x="1337" y="658" width="1" height="12" fill="#c0c0c0" />
<rect x="1345" y="658" width="1" height="12" fill="#c0c0c0" />
<rect x="1353" y="661" width="1" height="9" fill="#c0c0c0" />
<rect x="1361" y="667" width="1" height="3" fill="#c0c0c0" />
<rect x="1369" y="669" width="1" height="1" fill="#c0c0c0" />
<rect x="1377" y="669" width="1" height="10" fill="#c0c0c0" />
<rect x="1385" y="669" width="1" height="19" fill="#c0c0c0" />
<rect x="1393" y="669" width="1" height="25" fill="#c0c0c0" />
<rect x="1401" y="669" width="1" height="31" fill="#c0c0c0" />
<rect x="1409" y="669" width="1" height="29" fill="#c0c0c0" />
<rect x="1417" y="669" width="1" height="26" fill="#c0c0c0" />
<rect x="1425" y="669" width="1" height="20" fill="#c0c0c0" />
<rect x="1433" y="669" width="1" height="12" fill="#c0c0c0" />
</g>
<polyline points="3.4,727.1 13.4,713.7 23.5,702.0 33.5,690.2 43.6,678.5 53.6,666.8 60.3,660.1 67.0,656.1 73.8,651.7 82.1,649.0 93.9,647.3 103.9,645.7 114.0,644.3 134.1,644.3 154.2,644.3 181.0,644.3 194.4,646.7 207.8,648.3 228.0,650.0 241.4,654.0 258.1,655.0 274.9,656.1 288.3,656.1 301.7,654.4 311.8,651.7 321.8,648.3 335.2,644.0 348.6,640.0 362.1,637.3 375.5,632.6 388.9,627.6 402.3,620.9 409.0,617.5 419.0,613.8 432.5,611.8 445.9,612.5 455.9,615.8 466.0,619.2 476.0,624.9 486.1,631.6 499.5,638.3 512.9,645.0 526.3,650.0 539.7,656.1 549.8,660.1 563.2,663.4 573.2,666.1 580.1,668.5 590.1,668.8 603.5,668.5 616.9,666.8 630.3,665.1 647.1,662.4 660.5,659.4 673.9,657.4 687.3,654.0 700.7,651.7 710.8,649.0 724.2,648.3 741.0,648.7 757.7,650.7 771.1,652.4 784.5,655.4 801.3,657.4 814.7,656.4 831.5,654.4 844.9,651.0 858.3,646.0 871.7,641.6 888.5,638.3 905.2,636.6 925.3,637.3 945.5,638.3 965.6,637.3 979.0,635.9 992.4,634.3 1009.2,634.6 1022.6,635.9 1036.0,639.3 1049.4,644.3 1062.8,649.3 1076.2,656.1 1089.6,659.4 1103.0,664.4 1116.4,666.8 1129.8,669.5 1130.0,669.5 1140.1,672.8 1150.1,676.2 1163.5,680.2 1176.9,683.5 1190.3,684.5 1203.8,683.2 1217.2,680.9 1230.6,676.8 1244.0,671.8 1257.4,667.5 1270.8,661.8 1284.2,657.7 1297.6,654.0 1311.0,651.0 1321.1,650.4 1334.5,651.0 1347.9,652.4 1358.0,655.0 1368.0,657.4 1378.1,661.8 1388.1,667.5 1398.2,673.5 1408.2,679.2 1418.3,684.5 1425.0,687.6 1431.7,688.2" fill="none" stroke="#ff0000" stroke-width="1" stroke-dasharray="3 3" shape-rendering="crispEdges"/>
<line x1="0" y1="784.5" x2="1683" y2="784.5" stroke="#c0c0c0" stroke-dasharray="3 3" shape-rendering="crispEdges"/>
<line x1="0" y1="835.5" x2="1683" y2="835.5" stroke="#c0c0c0" stroke-dasharray="3 3" shape-rendering="crispEdges"/>
<line x1="0" y1="896.5" x2="1683" y2="896.5" stroke="#c0c0c0" stroke-dasharray="3 3" shape-rendering="crispEdges"/>
<polyline points="1.5,823.1 9.5,827.5 17.5,826.5 25.5,822.4 33.5,829.1 41.5,821.4 49.5,821.4 57.5,823.8 65.5,829.1 73.5,835.2 81.5,832.5 89.5,832.5 97.5,827.1 105.5,828.1 113.5,823.4 121.5,823.4 129.5,816.4 137.5,825.5 145.5,831.5 153.5,837.2 161.5,832.5 169.5,829.1 177.5,835.2 185.5,828.8 193.5,823.8 201.5,822.4 209.5,827.1 217.5,839.2 225.5,842.5 233.5,835.2 241.5,837.5 249.5,833.2 257.5,820.4 265.5,827.5 273.5,823.4 281.5,823.4 289.5,824.4 297.5,822.4 305.5,820.4 313.5,815.4 321.5,805.3 329.5,813.0 337.5,811.4 345.5,817.4 353.5,816.4 361.5,809.0 369.5,801.3 377.5,804.7 385.5,793.9 393.5,792.3 401.5,790.3 409.5,795.3 417.5,811.4 425.5,838.2 433.5,835.5 441.5,840.5 449.5,827.1 457.5,825.5 465.5,831.1 473.5,828.1 481.5,837.2 489.5,838.5 497.5,828.1 505.5,830.5 513.5,841.2 521.5,837.2 529.5,845.9 537.5,847.2 545.5,834.8 553.5,834.2 561.5,835.2 569.5,832.2 577.5,834.8 585.5,830.5 593.5,823.8 601.5,832.5 609.5,829.1 617.5,835.5 625.5,829.8 633.5,828.1 641.5,828.1 649.5,815.4 657.5,815.4 665.5,819.1 673.5,822.4 681.5,820.4 689.5,820.4 697.5,816.4 705.5,815.4 713.5,824.8 721.5,832.5 729.5,832.5 737.5,826.5 745.5,833.8 753.5,830.5 761.5,830.5 769.5,833.5 777.5,833.5 785.5,825.5 793.5,820.4 801.5,810.4 809.5,806.3 817.5,804.3 825.5,805.3 833.5,797.3 841.5,798.6 849.5,794.6 857.5,794.6 865.5,799.6 873.5,797.3 881.5,800.3 889.5,806.3 897.5,816.4 905.5,810.4 913.5,807.3 921.5,805.3 929.5,795.3 937.5,801.3 945.5,798.0 953.5,793.6 961.5,792.3 969.5,789.2 977.5,808.4 985.5,801.3 993.5,793.3 1001.5,830.5 1009.5,832.5 1017.5,832.5 1025.5,825.5 1033.5,848.6 1041.5,833.2 1049.5,842.5 1057.5,842.5 1065.5,837.5 1073.5,833.5 1081.5,836.5 1089.5,834.5 1097.5,838.5 1105.5,843.2 1113.5,844.6 1121.5,855.6 1129.5,850.6 1137.5,863.3 1145.5,855.0 1153.5,849.3 1161.5,847.2 1169.5,835.2 1177.5,838.5 1185.5,830.1 1193.5,832.2 1201.5,835.8 1209.5,829.8 1217.5,825.5 1225.5,835.5 1233.5,820.8 1241.5,817.1 1249.5,815.4 1257.5,817.4 1265.5,811.4 1273.5,816.4 1281.5,822.4 1289.5,822.4 1297.5,823.4 1305.5,820.4 1313.5,831.5 1321.5,829.1 1329.5,839.2 1337.5,829.1 1345.5,833.2 1353.5,836.5 1361.5,850.6 1369.5,859.3 1377.5,870.0 1385.5,873.4 1393.5,871.7 1401.5,874.4 1409.5,852.6 1417.5,835.5 1425.5,832.5 1433.5,821.1" fill="none" stroke="#1e90ff" stroke-width="1" shape-rendering="crispEdges"/>
<rect x="0" y="21" width="1684" height="1" fill="#000" />
<rect x="0" y="588" width="1684" height="1" fill="#000" />
<rect x="0" y="590" width="1684" height="1" fill="#000" />
<rect x="0" y="746" width="1684" height="1" fill="#000" />
<rect x="0" y="748" width="1684" height="1" fill="#000" />
<rect x="0" y="922" width="1684" height="1" fill="#000" />
<rect x="0" y="589" width="1683" height="1" fill="#fff" />
<rect x="0" y="747" width="1683" height="1" fill="#fff" />
<rect x="1683" y="21" width="1" height="902" fill="#000" />
<rect x="1684" y="589" width="46" height="1" fill="#fff" />
<rect x="1684" y="747" width="46" height="1" fill="#fff" />
<rect x="1684" y="24" width="2" height="1" fill="#000" />
<text x="1689" y="27.6" font-size="9.2" fill="#000" stroke="#000" stroke-width=".22" >29507.0</text>
<rect x="1684" y="57" width="2" height="1" fill="#000" />
<text x="1689" y="60.6" font-size="9.2" fill="#000" stroke="#000" stroke-width=".22" >29065.0</text>
<rect x="1684" y="90" width="2" height="1" fill="#000" />
<text x="1689" y="93.6" font-size="9.2" fill="#000" stroke="#000" stroke-width=".22" >28636.0</text>
<rect x="1684" y="123" width="2" height="1" fill="#000" />
<text x="1689" y="126.6" font-size="9.2" fill="#000" stroke="#000" stroke-width=".22" >28194.0</text>
<rect x="1684" y="156" width="2" height="1" fill="#000" />
<text x="1689" y="159.6" font-size="9.2" fill="#000" stroke="#000" stroke-width=".22" >27765.0</text>
<rect x="1684" y="189" width="2" height="1" fill="#000" />
<text x="1689" y="192.6" font-size="9.2" fill="#000" stroke="#000" stroke-width=".22" >27323.0</text>
<rect x="1684" y="222" width="2" height="1" fill="#000" />
<text x="1689" y="225.6" font-size="9.2" fill="#000" stroke="#000" stroke-width=".22" >26894.0</text>
<rect x="1684" y="255" width="2" height="1" fill="#000" />
<text x="1689" y="258.6" font-size="9.2" fill="#000" stroke="#000" stroke-width=".22" >26452.0</text>
<rect x="1684" y="288" width="2" height="1" fill="#000" />
<text x="1689" y="291.6" font-size="9.2" fill="#000" stroke="#000" stroke-width=".22" >26023.0</text>
<rect x="1684" y="321" width="2" height="1" fill="#000" />
<text x="1689" y="324.6" font-size="9.2" fill="#000" stroke="#000" stroke-width=".22" >25581.0</text>
<rect x="1684" y="354" width="2" height="1" fill="#000" />
<text x="1689" y="357.6" font-size="9.2" fill="#000" stroke="#000" stroke-width=".22" >25152.0</text>
<rect x="1684" y="387" width="2" height="1" fill="#000" />
<text x="1689" y="390.6" font-size="9.2" fill="#000" stroke="#000" stroke-width=".22" >24710.0</text>
<rect x="1684" y="420" width="2" height="1" fill="#000" />
<text x="1689" y="423.6" font-size="9.2" fill="#000" stroke="#000" stroke-width=".22" >24281.0</text>
<rect x="1684" y="453" width="2" height="1" fill="#000" />
<text x="1689" y="456.6" font-size="9.2" fill="#000" stroke="#000" stroke-width=".22" >23839.0</text>
<rect x="1684" y="486" width="2" height="1" fill="#000" />
<text x="1689" y="489.6" font-size="9.2" fill="#000" stroke="#000" stroke-width=".22" >23410.0</text>
<rect x="1684" y="519" width="2" height="1" fill="#000" />
<text x="1689" y="522.6" font-size="9.2" fill="#000" stroke="#000" stroke-width=".22" >22968.0</text>
<rect x="1684" y="552" width="2" height="1" fill="#000" />
<text x="1689" y="555.6" font-size="9.2" fill="#000" stroke="#000" stroke-width=".22" >22539.0</text>
<rect x="1684" y="585" width="2" height="1" fill="#000" />
<text x="1689" y="588.6" font-size="9.2" fill="#000" stroke="#000" stroke-width=".22" >22110.0</text>
<rect x="1684" y="592" width="1" height="1" fill="#000" />
<text x="1687" y="601" font-size="9.2" fill="#000" stroke="#000" stroke-width=".22" >953.39</text>
<rect x="1684" y="669" width="1" height="1" fill="#000" />
<text x="1687" y="673" font-size="9.2" fill="#000" stroke="#000" stroke-width=".22" >0.00</text>
<rect x="1684" y="744" width="1" height="1" fill="#000" />
<text x="1687" y="743" font-size="9.2" fill="#000" stroke="#000" stroke-width=".22" >-939.41</text>
<text x="1687" y="759" font-size="9.2" fill="#000" stroke="#000" stroke-width=".22" >100</text>
<text x="1687" y="788" font-size="9.2" fill="#000" stroke="#000" stroke-width=".22" >80</text>
<text x="1687" y="839" font-size="9.2" fill="#000" stroke="#000" stroke-width=".22" >50</text>
<text x="1687" y="900" font-size="9.2" fill="#000" stroke="#000" stroke-width=".22" >15</text>
<text x="1687" y="919" font-size="9.2" fill="#000" stroke="#000" stroke-width=".22" >0</text>
<rect x="1685" y="69" width="41" height="11" fill="#ff0000" />
<text x="1689.7" y="77.6" font-size="9.2" fill="#fff" stroke="#fff" stroke-width=".22" textLength="32.2" lengthAdjust="spacingAndGlyphs">28825.2</text>
<rect x="1685" y="89" width="41" height="11" fill="#ff0000" />
<text x="1689.7" y="97.6" font-size="9.2" fill="#fff" stroke="#fff" stroke-width=".22" textLength="32.2" lengthAdjust="spacingAndGlyphs">28561.9</text>
<rect x="1685" y="107" width="41" height="11" fill="#000" />
<text x="1689.7" y="115.6" font-size="9.2" fill="#fff" stroke="#fff" stroke-width=".22" textLength="32.2" lengthAdjust="spacingAndGlyphs">28343.0</text>
<rect x="1685" y="124" width="41" height="11" fill="#32cd32" />
<text x="1689.7" y="132.6" font-size="9.2" fill="#fff" stroke="#fff" stroke-width=".22" textLength="32.2" lengthAdjust="spacingAndGlyphs">28101.1</text>
<rect x="1685" y="148" width="41" height="11" fill="#0000ff" />
<text x="1689.7" y="156.6" font-size="9.2" fill="#fff" stroke="#fff" stroke-width=".22" textLength="32.2" lengthAdjust="spacingAndGlyphs">27785.1</text>
<rect x="1685" y="178" width="41" height="11" fill="#0000ff" />
<text x="1689.7" y="186.6" font-size="9.2" fill="#fff" stroke="#fff" stroke-width=".22" textLength="32.2" lengthAdjust="spacingAndGlyphs">27390.1</text>
<rect x="-7" y="923" width="1" height="3" fill="#000" />
<text x="-7" y="935" font-size="9.2" fill="#000" stroke="#000" stroke-width=".22" >9 Apr 2020</text>
<rect x="57" y="923" width="1" height="3" fill="#000" />
<text x="57" y="935" font-size="9.2" fill="#000" stroke="#000" stroke-width=".22" >19 Apr 2020</text>
<rect x="121" y="923" width="1" height="3" fill="#000" />
<text x="121" y="935" font-size="9.2" fill="#000" stroke="#000" stroke-width=".22" >28 Apr 2020</text>
<rect x="185" y="923" width="1" height="3" fill="#000" />
<text x="185" y="935" font-size="9.2" fill="#000" stroke="#000" stroke-width=".22" >7 May 2020</text>
<rect x="249" y="923" width="1" height="3" fill="#000" />
<text x="249" y="935" font-size="9.2" fill="#000" stroke="#000" stroke-width=".22" >17 May 2020</text>
<rect x="313" y="923" width="1" height="3" fill="#000" />
<text x="313" y="935" font-size="9.2" fill="#000" stroke="#000" stroke-width=".22" >26 May 2020</text>
<rect x="377" y="923" width="1" height="3" fill="#000" />
<text x="377" y="935" font-size="9.2" fill="#000" stroke="#000" stroke-width=".22" >4 Jun 2020</text>
<rect x="441" y="923" width="1" height="3" fill="#000" />
<text x="441" y="935" font-size="9.2" fill="#000" stroke="#000" stroke-width=".22" >14 Jun 2020</text>
<rect x="505" y="923" width="1" height="3" fill="#000" />
<text x="505" y="935" font-size="9.2" fill="#000" stroke="#000" stroke-width=".22" >23 Jun 2020</text>
<rect x="569" y="923" width="1" height="3" fill="#000" />
<text x="569" y="935" font-size="9.2" fill="#000" stroke="#000" stroke-width=".22" >2 Jul 2020</text>
<rect x="633" y="923" width="1" height="3" fill="#000" />
<text x="633" y="935" font-size="9.2" fill="#000" stroke="#000" stroke-width=".22" >12 Jul 2020</text>
<rect x="697" y="923" width="1" height="3" fill="#000" />
<text x="697" y="935" font-size="9.2" fill="#000" stroke="#000" stroke-width=".22" >21 Jul 2020</text>
<rect x="761" y="923" width="1" height="3" fill="#000" />
<text x="761" y="935" font-size="9.2" fill="#000" stroke="#000" stroke-width=".22" >30 Jul 2020</text>
<rect x="825" y="923" width="1" height="3" fill="#000" />
<text x="825" y="935" font-size="9.2" fill="#000" stroke="#000" stroke-width=".22" >9 Aug 2020</text>
<rect x="889" y="923" width="1" height="3" fill="#000" />
<text x="889" y="935" font-size="9.2" fill="#000" stroke="#000" stroke-width=".22" >18 Aug 2020</text>
<rect x="953" y="923" width="1" height="3" fill="#000" />
<text x="953" y="935" font-size="9.2" fill="#000" stroke="#000" stroke-width=".22" >27 Aug 2020</text>
<rect x="1017" y="923" width="1" height="3" fill="#000" />
<text x="1017" y="935" font-size="9.2" fill="#000" stroke="#000" stroke-width=".22" >6 Sep 2020</text>
<rect x="1081" y="923" width="1" height="3" fill="#000" />
<text x="1081" y="935" font-size="9.2" fill="#000" stroke="#000" stroke-width=".22" >15 Sep 2020</text>
<rect x="1145" y="923" width="1" height="3" fill="#000" />
<text x="1145" y="935" font-size="9.2" fill="#000" stroke="#000" stroke-width=".22" >24 Sep 2020</text>
<rect x="1209" y="923" width="1" height="3" fill="#000" />
<text x="1209" y="935" font-size="9.2" fill="#000" stroke="#000" stroke-width=".22" >4 Oct 2020</text>
<rect x="1273" y="923" width="1" height="3" fill="#000" />
<text x="1273" y="935" font-size="9.2" fill="#000" stroke="#000" stroke-width=".22" >13 Oct 2020</text>
<rect x="1337" y="923" width="1" height="3" fill="#000" />
<text x="1337" y="935" font-size="9.2" fill="#000" stroke="#000" stroke-width=".22" >22 Oct 2020</text>
<rect x="1401" y="923" width="1" height="3" fill="#000" />
<text x="1401" y="935" font-size="9.2" fill="#000" stroke="#000" stroke-width=".22" >1 Nov 2020</text>
<text x="8.4" y="33" font-size="9.2" fill="#000" stroke="#000" stroke-width=".22" textLength="195" lengthAdjust="spacingAndGlyphs">DJ30-,Daily&#160; 27691.0 28387.0 27659.0 28343.0</text>
<polygon points="-1,32 3,32 1,28.5" fill="#000"/>
<text x="-3" y="603" font-size="9.2" fill="#000" stroke="#000" stroke-width=".22" textLength="134" lengthAdjust="spacingAndGlyphs">MACD(12,26,9) -149.92 -241.16</text>
<text x="-3.5" y="761" font-size="9.2" fill="#000" stroke="#000" stroke-width=".22" textLength="68.5" lengthAdjust="spacingAndGlyphs">RSI(14) 59.2948</text>
<rect x="1729" y="19" width="1" height="921" fill="#e8e8e8" />
<defs><linearGradient id="gt" x1="0" y1="41" x2="0" y2="65" gradientUnits="userSpaceOnUse"><stop offset="0" stop-color="#f95050"/><stop offset="1" stop-color="#e43232"/></linearGradient><linearGradient id="gb" x1="0" y1="65" x2="0" y2="105" gradientUnits="userSpaceOnUse"><stop offset="0" stop-color="#e03030"/><stop offset=".5" stop-color="#c81818"/><stop offset="1" stop-color="#b00000"/></linearGradient><linearGradient id="gv" x1="0" y1="42" x2="0" y2="62" gradientUnits="userSpaceOnUse"><stop offset="0" stop-color="#f6f6f6"/><stop offset=".45" stop-color="#e6e6e6"/><stop offset=".46" stop-color="#d4d4d4"/><stop offset="1" stop-color="#d8d8d8"/></linearGradient></defs>
<g shape-rendering="crispEdges">
<rect x="0" y="41" width="217" height="64" fill="#fff"/>
<rect x="0" y="41" width="48" height="24" fill="url(#gt)"/><rect x="47" y="41" width="1" height="24" fill="#c41414"/><rect x="0" y="41" width="48" height="1" fill="#d82828"/>
<rect x="163" y="41" width="52" height="24" fill="url(#gt)"/><rect x="163" y="41" width="1" height="24" fill="#c41414"/><rect x="214" y="41" width="1" height="64" fill="#a80808"/><rect x="163" y="41" width="52" height="1" fill="#d82828"/>
<rect x="0" y="65" width="105" height="40" fill="url(#gb)"/><rect x="107" y="65" width="108" height="40" fill="url(#gb)"/>
<rect x="104" y="65" width="1" height="40" fill="#b00808"/><rect x="107" y="65" width="1" height="40" fill="#c01010"/><rect x="214" y="65" width="1" height="40" fill="#a80808"/>
<rect x="48" y="65" width="57" height="1" fill="#c01818"/><rect x="107" y="65" width="57" height="1" fill="#c01818"/>
<rect x="0" y="64" width="44" height="1" fill="#8c0c0c"/><rect x="0" y="65" width="44" height="1" fill="#ea4c4c"/>
<rect x="167" y="64" width="44" height="1" fill="#8c0c0c"/><rect x="167" y="65" width="44" height="1" fill="#ea4c4c"/>
<rect x="50.5" y="41.5" width="110" height="21" fill="#fff" stroke="#a4aab4"/>
<rect x="51" y="42" width="20" height="20" fill="url(#gv)"/><rect x="71" y="42" width="1" height="20" fill="#a4aab4"/>
<rect x="141" y="42" width="19" height="20" fill="url(#gv)"/><rect x="139" y="42" width="1" height="20" fill="#a4aab4"/><rect x="140" y="42" width="1" height="20" fill="#f4f4f4"/>
</g>
<polygon points="57.8,50 63.3,50 60.55,53" fill="#4460c0"/><polygon points="147,52.8 152.2,52.8 149.6,50" fill="#4460c0"/>
<text x="8.4" y="56.8" font-size="11.4" fill="#fff" textLength="25.3" lengthAdjust="spacingAndGlyphs">SELL</text>
<text x="176.6" y="56.8" font-size="11.4" fill="#fff" textLength="23" lengthAdjust="spacingAndGlyphs">BUY</text>
<text x="112.7" y="55.8" font-size="12" fill="#000" textLength="22.9" lengthAdjust="spacingAndGlyphs">1.00</text>
<text x="12.3" y="95.9" font-size="12.3" font-weight="bold" fill="#fff" textLength="34.2" lengthAdjust="spacingAndGlyphs">28341</text>
<rect x="51.5" y="91.6" width="4.6" height="4.3" fill="#fff"/>
<text x="57.4" y="95.9" font-size="33.8" fill="#fff" stroke="url(#gb)" stroke-width=".9" textLength="17" lengthAdjust="spacingAndGlyphs">5</text>
<text x="122.2" y="95.9" font-size="12.3" font-weight="bold" fill="#fff" textLength="34.2" lengthAdjust="spacingAndGlyphs">28356</text>
<rect x="162.1" y="91.6" width="4.6" height="4.3" fill="#fff"/>
<text x="168.5" y="95.9" font-size="33.8" fill="#fff" stroke="url(#gb)" stroke-width=".9" textLength="17" lengthAdjust="spacingAndGlyphs">5</text>
</svg>
<div id="tb"></div>
<svg id="tbi" width="1730" height="17" viewBox="0 0 1730 17">
<rect x="-2" y="-2" width="8.5" height="13.5" fill="#fff" stroke="#4a7fd6" stroke-width="1.2"/>
<rect x="0" y="1" width="5" height="1" fill="#a8c4f0"/>
<rect x="0" y="3.5" width="5" height="1" fill="#a8c4f0"/>
<rect x="0" y="6" width="5" height="1" fill="#a8c4f0"/>
<rect x="0" y="8.5" width="5" height="1" fill="#a8c4f0"/>
<rect x="20" y="-2" width="10" height="11" fill="#f4f4f4" stroke="#b0b0b0"/>
<line x1="31" y1="9.5" x2="35.5" y2="13.5" stroke="#c89820" stroke-width="2.6" stroke-linecap="round"/>
<circle cx="27.5" cy="5.5" r="5" fill="#cfe2f6" fill-opacity=".85" stroke="#7aa7e0" stroke-width="1.2"/>
<rect x="26" y="2" width="2.5" height="5" fill="#98aac4"/>
<rect x="44" y="0" width="1" height="14.5" fill="#a0a0a0"/>
<rect x="54.5" y="-2" width="11" height="12" rx="1" fill="#fff" stroke="#808080"/>
<rect x="57" y="2" width="6" height="1" fill="#909090"/>
<rect x="57" y="4.5" width="6" height="1" fill="#909090"/>
<path d="M62.4 3.4000000000000004h3.2v4h4v3.2h-4v4h-3.2v-4h-4v-3.2h4z" fill="#2ad02a" stroke="#0e8a0e" stroke-width=".9"/>
<polygon points="121.5,5 129.5,-2 136.8,6 128.8,12.6" fill="#e0a828" stroke="#a87410" stroke-width=".8"/>
<polygon points="123.5,4.8 129.8,-1 134.5,4.6 128.2,9.8" fill="#f2cc54"/>
<polygon points="121.5,5 128.6,10.6 136.8,6 136.8,7.6 128.8,12.8 121.5,6.4" fill="#b07c14"/>
<rect x="152" y="-2" width="10" height="7.5" fill="#3b86e4"/>
<rect x="154" y="1.5" width="6" height="1" fill="#d8e8fc"/>
<path d="M151.5 12.3a3 3 0 0 1 .5-6a4.2 4.2 0 0 1 7.6-1.3a3.6 3.6 0 0 1 3.2 7.3z" fill="#eef3fb" stroke="#6a8ac0" stroke-width="1"/>
<g fill="none" stroke-linecap="round"><path d="M182 -.5a4.5 4.5 0 0 0 0 8" stroke="#6a92e0" stroke-width="1.1"/><path d="M179 -2a8 8 0 0 0 0 11.5" stroke="#a8c0f0" stroke-width="1.1"/><path d="M188.5 -1a5 5 0 0 1 -1 9.5" stroke="#78b878" stroke-width="1.3"/><path d="M191 -2.5a8 8 0 0 1 -4.5 14" stroke="#58a858" stroke-width="1.5"/></g>
<rect x="184.6" y="4" width="1.6" height="8.5" fill="#38a038"/><circle cx="185.2" cy="3.8" r="1.7" fill="#2858c8"/>
<polygon points="204,2 220,2 213.5,12.5 210.5,12.5" fill="#f2d23a" stroke="#c8a018" stroke-width=".7"/>
<ellipse cx="212" cy=".5" rx="8" ry="3.4" fill="#5aa0e6" stroke="#3a78c0" stroke-width=".7"/>
<circle cx="216.4" cy="8.8" r="4.3" fill="#e01c1c"/><rect x="214.9" y="7.3" width="3" height="3" fill="#fff"/>
<text class="cjk" x="73" y="8.2" font-size="12" fill="#000" textLength="36" lengthAdjust="spacingAndGlyphs">新订单</text>
<text class="cjk" x="225.5" y="8.2" font-size="12" fill="#000" textLength="47" lengthAdjust="spacingAndGlyphs">自动交易</text>
<rect x="280" y="0" width="1" height="16" fill="#c4c4c4"/>
<rect x="281" y="0" width="1" height="16" fill="#fff"/>
<rect x="284" y="1" width="3" height="1" fill="#a8a8a8"/>
<rect x="284" y="3" width="3" height="1" fill="#a8a8a8"/>
<rect x="284" y="5" width="3" height="1" fill="#a8a8a8"/>
<rect x="284" y="7" width="3" height="1" fill="#a8a8a8"/>
<rect x="284" y="9" width="3" height="1" fill="#a8a8a8"/>
<rect x="284" y="11" width="3" height="1" fill="#a8a8a8"/>
<rect x="284" y="13" width="3" height="1" fill="#a8a8a8"/>
<path d="M298.5 0V13M296 10.5H308" stroke="#505050" stroke-width="1.1" fill="none"/><polygon points="307,8.8 310.2,10.5 307,12.2" fill="#505050"/><rect x="297" y="0" width="3" height="1" fill="#505050"/>
<path d="M304.5 0V9M304.5 1.5H307M302 8H304.5" stroke="#28a028" stroke-width="1.3" fill="none"/>
<rect x="318" y="0" width="1" height="14.5" fill="#a0a0a0"/>
<rect x="319.5" y="0" width="24" height="14.5" fill="#f9f9f9"/>
<path d="M326.5 0V13M324 10.5H336" stroke="#505050" stroke-width="1.1" fill="none"/><polygon points="335,8.8 338.2,10.5 335,12.2" fill="#505050"/><rect x="325" y="0" width="3" height="1" fill="#505050"/>
<rect x="330.3" y="-2" width="4.6" height="8.3" fill="#28c428" stroke="#189018" stroke-width=".8"/><rect x="332" y="6" width="1.3" height="3" fill="#189018"/>
<path d="M354.5 0V13M352 10.5H364" stroke="#505050" stroke-width="1.1" fill="none"/><polygon points="363,8.8 366.2,10.5 363,12.2" fill="#505050"/><rect x="353" y="0" width="3" height="1" fill="#505050"/>
<path d="M353 8C356 4 358 1.5 359.5 2S363 5.5 365.5 6.5" stroke="#28a028" stroke-width="1" fill="none"/>
<rect x="375" y="0" width="1" height="14.5" fill="#a0a0a0"/>
<line x1="394" y1="7" x2="399.3" y2="11.8" stroke="#d8b030" stroke-width="2.8" stroke-linecap="round"/>
<line x1="394" y1="7" x2="399.3" y2="11.8" stroke="#a07818" stroke-width="1" transform="translate(-.8,.9)"/>
<circle cx="390" cy="3" r="5.4" fill="#d4e8fa" stroke="#5a94dc" stroke-width="1.3"/>
<rect x="387" y="2.2" width="6" height="1.7" fill="#3a78c8"/>
<rect x="389.15" y="0" width="1.7" height="6" fill="#3a78c8"/>
<line x1="422.3" y1="7" x2="427.6" y2="11.8" stroke="#d8b030" stroke-width="2.8" stroke-linecap="round"/>
<line x1="422.3" y1="7" x2="427.6" y2="11.8" stroke="#a07818" stroke-width="1" transform="translate(-.8,.9)"/>
<circle cx="418.3" cy="3" r="5.4" fill="#d4e8fa" stroke="#5a94dc" stroke-width="1.3"/>
<rect x="415.3" y="2.2" width="6" height="1.7" fill="#3a78c8"/>
<rect x="440" y="-2" width="7.7" height="7.3" fill="#5aa826"/><rect x="441.5" y="1" width="4.7" height="3" fill="#e8f0ff"/><rect x="442.5" y="2.3" width="2.7" height="1.7" fill="#5aa826"/>
<rect x="448.3" y="-2" width="7.7" height="7.3" fill="#3766d6"/><rect x="449.8" y="1" width="4.7" height="3" fill="#e8f0ff"/><rect x="450.8" y="2.3" width="2.7" height="1.7" fill="#3766d6"/>
<rect x="440" y="5.3" width="7.7" height="7.3" fill="#3766d6"/><rect x="441.5" y="8.3" width="4.7" height="3" fill="#e8f0ff"/><rect x="442.5" y="9.6" width="2.7" height="1.7" fill="#3766d6"/>
<rect x="448.3" y="5.3" width="7.7" height="7.3" fill="#5aa826"/><rect x="449.8" y="8.3" width="4.7" height="3" fill="#e8f0ff"/><rect x="450.8" y="9.6" width="2.7" height="1.7" fill="#5aa826"/>
<rect x="465" y="0" width="1" height="14.5" fill="#a0a0a0"/>
<rect x="470" y="0" width="1" height="14.5" fill="#a0a0a0"/>
<rect x="471" y="0" width="24" height="14.5" fill="#f9f9f9"/>
<path d="M478.5 0V13M476 10.5H488" stroke="#505050" stroke-width="1.1" fill="none"/><polygon points="487,8.8 490.2,10.5 487,12.2" fill="#505050"/><rect x="477" y="0" width="3" height="1" fill="#505050"/>
<polygon points="483.3,1 483.3,7.5 487.5,4.2" fill="#dff5df" stroke="#28a028" stroke-width="1.1"/>
<rect x="498" y="0" width="1" height="14.5" fill="#a0a0a0"/>
<rect x="499" y="0" width="24" height="14.5" fill="#f9f9f9"/>
<path d="M506.5 0V13M504 10.5H516" stroke="#505050" stroke-width="1.1" fill="none"/><polygon points="515,8.8 518.2,10.5 515,12.2" fill="#505050"/><rect x="505" y="0" width="3" height="1" fill="#505050"/>
<rect x="512" y="0" width="1.2" height="9" fill="#2878c8"/><path d="M518 4.3H514M516 1.8L513.5 4.3L516 6.8" stroke="#e05010" stroke-width="1.3" fill="none"/>
<rect x="527" y="0" width="1" height="14.5" fill="#a0a0a0"/>
<rect x="538" y="-2" width="10.5" height="12.5" rx="1" fill="#fff" stroke="#808080"/><rect x="540" y="2" width="3" height="1" fill="#909090"/><rect x="540" y="4.5" width="3" height="1" fill="#909090"/>
<path d="M545.4 3.0999999999999996h3.2v4h4v3.2h-4v4h-3.2v-4h-4v-3.2h4z" fill="#2ad02a" stroke="#0e8a0e" stroke-width=".9"/>
<polygon points="559,4 564.5,4 561.75,7" fill="#000"/>
<circle cx="583" cy="4" r="6.9" fill="#f4f8ff" stroke="#2264c4" stroke-width="2.7"/><circle cx="583" cy="4" r="8.2" fill="none" stroke="#1a4ea0" stroke-width=".6"/>
<path d="M582.5 -1V4.5H586" stroke="#303030" stroke-width="1.2" fill="none"/>
<polygon points="598,4 603.5,4 600.75,7" fill="#000"/>
<rect x="614.5" y="-2" width="15" height="13.5" fill="#fff" stroke="#3a72c8" stroke-width="1.3"/><rect x="614.5" y="5" width="15" height="1.2" fill="#3a72c8"/>
<path d="M616.5 4L619.5 3.5L621.5 2.5L624 3.5L627.5 2.2" stroke="#b02818" stroke-width="1.2" fill="none"/><path d="M616.5 9.5L619.5 8.5L621.5 9.2L625 7.3L627.5 9.5" stroke="#189018" stroke-width="1.2" fill="none"/>
<polygon points="637,4 642.5,4 639.75,7" fill="#000"/>
<rect x="648" y="0" width="1" height="16" fill="#b4b4b4"/>
<rect x="649" y="0" width="1" height="16" fill="#fff"/>
<rect x="652" y="1" width="3" height="1" fill="#a8a8a8"/>
<rect x="652" y="3" width="3" height="1" fill="#a8a8a8"/>
<rect x="652" y="5" width="3" height="1" fill="#a8a8a8"/>
<rect x="652" y="7" width="3" height="1" fill="#a8a8a8"/>
<rect x="652" y="9" width="3" height="1" fill="#a8a8a8"/>
<rect x="652" y="11" width="3" height="1" fill="#a8a8a8"/>
<rect x="652" y="13" width="3" height="1" fill="#a8a8a8"/>
<rect x="658" y="0" width="1" height="14.5" fill="#c0c0c0"/>
<rect x="659" y="0" width="24" height="14.5" fill="#f9f9f9"/>
<polygon points="666.5,-2 666.5,9 669,6.8 671.3,12 673,11.2 670.8,6.2 674,6" fill="#505050"/>
<path d="M691 5.5H706M698.5 0V13" stroke="#505050" stroke-width="1.2"/><rect x="698" y="5" width="1" height="1" fill="#f0f0f0"/>
<rect x="715" y="0" width="1" height="14.5" fill="#a0a0a0"/>
<path d="M732.5 0V11.5M755 5.5H767M783 11.8L795.3 0" stroke="#505050" stroke-width="1.2" fill="none"/>
<path d="M809.5 7L821 -1M811 11L822.5 3M812.5 3V10M815.5 1V8M818.5 -1V6" stroke="#505050" stroke-width="1" fill="none"/>
<text x="820" y="13.8" font-size="6.5" font-weight="bold" fill="#404040">E</text>
<line x1="838" y1="1.5" x2="851" y2="1.5" stroke="#505050" stroke-width="1" stroke-dasharray="1 1"/>
<line x1="838" y1="5.5" x2="851" y2="5.5" stroke="#505050" stroke-width="1" stroke-dasharray="1 1"/>
<line x1="838" y1="9.5" x2="846" y2="9.5" stroke="#505050" stroke-width="1" stroke-dasharray="1 1"/>
<text x="847" y="13.8" font-size="6.5" font-weight="bold" fill="#404040">F</text>
<text x="868" y="9.8" font-size="12.5" fill="#505050">A</text>
<rect x="895.5" y="1.5" width="11" height="10" fill="none" stroke="#505050" stroke-dasharray="1 1"/><text x="897.6" y="10" font-size="10.5" fill="#505050">T</text>
<path d="M925 -1L928 2L925 5L922 2ZM932.5 6L935.5 8.5L932.5 11L929.5 8.5Z" fill="#404040"/><path d="M923 5.5L926 8L931 3" stroke="#404040" stroke-width="1.3" fill="none"/>
<polygon points="942.5,4 948.0,4 945.25,7" fill="#000"/>
<rect x="954" y="0" width="1" height="16" fill="#b4b4b4"/>
<rect x="955" y="0" width="1" height="16" fill="#fff"/>
<rect x="958" y="1" width="3" height="1" fill="#a8a8a8"/>
<rect x="958" y="3" width="3" height="1" fill="#a8a8a8"/>
<rect x="958" y="5" width="3" height="1" fill="#a8a8a8"/>
<rect x="958" y="7" width="3" height="1" fill="#a8a8a8"/>
<rect x="958" y="9" width="3" height="1" fill="#a8a8a8"/>
<rect x="958" y="11" width="3" height="1" fill="#a8a8a8"/>
<rect x="958" y="13" width="3" height="1" fill="#a8a8a8"/>
<rect x="1132" y="0" width="1" height="14.5" fill="#b0b0b0"/><rect x="1133" y="0" width="25" height="14.5" fill="#f9f9f9"/>
<text x="969.5" y="8.8" font-size="9.2" fill="#404040">M1</text>
<text x="997.5" y="8.8" font-size="9.2" fill="#404040">M5</text>
<text x="1024" y="8.8" font-size="9.2" fill="#404040">M15</text>
<text x="1052" y="8.8" font-size="9.2" fill="#404040">M30</text>
<text x="1082.5" y="8.8" font-size="9.2" fill="#404040">H1</text>
<text x="1110" y="8.8" font-size="9.2" fill="#404040">H4</text>
<text x="1138.5" y="8.8" font-size="9.2" fill="#404040">D1</text>
<text x="1166.5" y="8.8" font-size="9.2" fill="#404040">W1</text>
<text x="1193" y="8.8" font-size="9.2" fill="#404040">MN</text>
<rect x="1215" y="0" width="1" height="16" fill="#b4b4b4"/>
<rect x="1216" y="0" width="1" height="16" fill="#fff"/>
<line x1="1682.5" y1="5.2" x2="1678" y2="9.7" stroke="#2a56c6" stroke-width="2.4" stroke-linecap="round"/><circle cx="1685.6" cy="1.8" r="4" fill="#f4f8ff" stroke="#2a56c6" stroke-width="1.3"/>
<path d="M1716 7.5a6.5 4.6 0 1 1 5 0l0 2l-2.2-1.6z" fill="#ececf0" stroke="#a0a0a0" stroke-width=".8" transform="translate(0,-3.5)"/>
<path d="M1707 9.3a5.4 3.9 0 1 1 4 .3l-4 2.2z" fill="#f4f4f6" stroke="#909090" stroke-width=".8"/>
</svg>

</body></html>
